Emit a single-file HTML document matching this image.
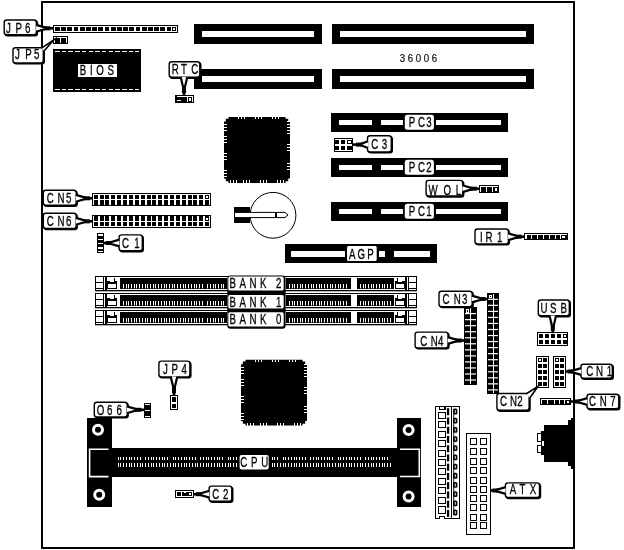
<!DOCTYPE html>
<html><head><meta charset="utf-8"><title>36006</title>
<style>
html,body{margin:0;padding:0;background:#fff;}
body{width:624px;height:550px;overflow:hidden;font-family:"Liberation Sans",sans-serif;}
svg{display:block;will-change:transform;font-family:"Liberation Sans",sans-serif;}
svg rect,svg polygon,svg line,svg polyline{shape-rendering:crispEdges;}
svg .aa, svg .aa *{shape-rendering:auto;}
</style></head><body>
<svg width="624" height="550" viewBox="0 0 624 550">
<rect x="41" y="1" width="534" height="548" fill="#000" />
<rect x="43" y="3" width="530" height="544" fill="#fff" />
<rect x="194" y="24" width="128" height="20" fill="#000" />
<rect x="202" y="31" width="112" height="6" fill="#fff" />
<rect x="194" y="69" width="128" height="19.5" fill="#000" />
<rect x="202" y="76" width="112" height="6" fill="#fff" />
<rect x="332" y="24" width="202" height="20" fill="#000" />
<rect x="340" y="31" width="186" height="6" fill="#fff" />
<rect x="332" y="69" width="202" height="19.5" fill="#000" />
<rect x="340" y="76" width="186" height="6" fill="#fff" />
<rect x="331" y="113" width="176.5" height="18.5" fill="#000" />
<rect x="339" y="119.7" width="33" height="5.3" fill="#fff" />
<rect x="381" y="119.7" width="22" height="5.3" fill="#fff" />
<rect x="436" y="119.7" width="65" height="5.3" fill="#fff" />
<rect x="404.8" y="114.7" width="29.1" height="15.1" rx="2.5" fill="#fff" class="aa"/>
<text transform="translate(0,127) scale(0.68,1)" x="601.03 614.71 626.91" y="0" font-size="14.3" fill="#000" stroke="#000" stroke-width="0.3" font-weight="normal">PC3</text>
<rect x="331" y="158" width="176.5" height="18.5" fill="#000" />
<rect x="339" y="164.7" width="33" height="5.3" fill="#fff" />
<rect x="381" y="164.7" width="22" height="5.3" fill="#fff" />
<rect x="436" y="164.7" width="65" height="5.3" fill="#fff" />
<rect x="404.8" y="159.7" width="29.1" height="15.1" rx="2.5" fill="#fff" class="aa"/>
<text transform="translate(0,172) scale(0.68,1)" x="601.03 614.71 626.91" y="0" font-size="14.3" fill="#000" stroke="#000" stroke-width="0.3" font-weight="normal">PC2</text>
<rect x="331" y="202" width="176.5" height="18.5" fill="#000" />
<rect x="339" y="208.7" width="33" height="5.3" fill="#fff" />
<rect x="381" y="208.7" width="22" height="5.3" fill="#fff" />
<rect x="436" y="208.7" width="65" height="5.3" fill="#fff" />
<rect x="404.8" y="203.7" width="29.1" height="15.1" rx="2.5" fill="#fff" class="aa"/>
<text transform="translate(0,216) scale(0.68,1)" x="601.03 614.71 626.91" y="0" font-size="14.3" fill="#000" stroke="#000" stroke-width="0.3" font-weight="normal">PC1</text>
<rect x="285" y="244" width="152" height="19" fill="#000" />
<rect x="291" y="251" width="53.5" height="6" fill="#fff" />
<rect x="393.5" y="251" width="36.8" height="6" fill="#fff" />
<rect x="379" y="251" width="6" height="6" fill="#fff" />
<rect x="347" y="245.9" width="29.7" height="15.2" rx="1.5" fill="#fff" class="aa"/>
<text transform="translate(0,258.5) scale(0.68,1)" x="513.09 525.74 540.15" y="0" font-size="14.3" fill="#000" stroke="#000" stroke-width="0.3" font-weight="normal">AGP</text>
<text transform="translate(0,61.7) scale(0.88,1)" x="454.32 463.41 472.51 481.61 490.70" y="0" font-size="11" fill="#000" stroke="#000" stroke-width="0.15" font-weight="normal">36006</text>
<rect x="53" y="25" width="125" height="8" fill="#000" />
<rect x="54" y="26" width="123" height="6" fill="#fff" />
<rect x="55" y="27" width="4.7" height="4" fill="#000" />
<rect x="61.2" y="27" width="4.7" height="4" fill="#000" />
<rect x="67.4" y="27" width="4.7" height="4" fill="#000" />
<rect x="73.6" y="27" width="4.7" height="4" fill="#000" />
<rect x="79.8" y="27" width="4.7" height="4" fill="#000" />
<rect x="86" y="27" width="4.7" height="4" fill="#000" />
<rect x="92.2" y="27" width="4.7" height="4" fill="#000" />
<rect x="98.4" y="27" width="4.7" height="4" fill="#000" />
<rect x="104.6" y="27" width="4.7" height="4" fill="#000" />
<rect x="110.8" y="27" width="4.7" height="4" fill="#000" />
<rect x="117" y="27" width="4.7" height="4" fill="#000" />
<rect x="123.2" y="27" width="4.7" height="4" fill="#000" />
<rect x="129.4" y="27" width="4.7" height="4" fill="#000" />
<rect x="135.6" y="27" width="4.7" height="4" fill="#000" />
<rect x="141.8" y="27" width="4.7" height="4" fill="#000" />
<rect x="148" y="27" width="4.7" height="4" fill="#000" />
<rect x="154.2" y="27" width="4.7" height="4" fill="#000" />
<rect x="160.4" y="27" width="4.7" height="4" fill="#000" />
<rect x="166.6" y="27" width="4.7" height="4" fill="#000" />
<rect x="172.3" y="27" width="4" height="4" fill="#000" />
<rect x="173.3" y="28" width="2" height="2" fill="#fff" />
<rect x="53" y="36" width="15" height="8" fill="#000" />
<rect x="54" y="37" width="13" height="1" fill="#fff" />
<rect x="54" y="38" width="1" height="5" fill="#fff" />
<rect x="60" y="38" width="1" height="5" fill="#fff" />
<rect x="66" y="38" width="1" height="5" fill="#fff" />
<rect x="53" y="49.3" width="87.5" height="42.2" fill="#000" />
<line x1="55" y1="51.5" x2="139" y2="51.5" stroke="#fff" stroke-width="1" stroke-dasharray="4.5 2.2"/>
<line x1="55" y1="89" x2="139" y2="89" stroke="#fff" stroke-width="1" stroke-dasharray="4.5 2.2"/>
<rect x="77.5" y="63.5" width="39" height="13.5" fill="#fff" />
<text transform="translate(0,75.2) scale(0.68,1)" x="117.35 132.31 141.71 158.26" y="0" font-size="14.3" fill="#000" stroke="#000" stroke-width="0.3" font-weight="normal">BIOS</text>
<rect x="175" y="95" width="19" height="8" fill="#000" />
<rect x="177" y="96" width="16" height="1" fill="#fff" />
<rect x="177" y="100.4" width="4.3" height="1" fill="#fff" />
<rect x="180.5" y="97" width="0.9" height="4" fill="#fff" />
<rect x="187" y="97" width="1" height="5" fill="#fff" />
<rect x="189" y="98" width="2" height="3" fill="#fff" />
<rect x="192" y="97" width="1" height="5" fill="#fff" />
<polygon points="228.5,117 285.5,117 285.5,118.8 288.2,118.8 288.2,121.5 290,121.5 290,178.5 288.2,178.5 288.2,181.2 285.5,181.2 285.5,183 228.5,183 228.5,181.2 225.8,181.2 225.8,178.5 224,178.5 224,121.5 225.8,121.5 225.8,118.8 228.5,118.8" fill="#000" class="aa"/>
<rect x="238" y="117" width="1" height="2" fill="#fff" />
<rect x="241" y="117" width="1" height="2" fill="#fff" />
<rect x="244" y="117" width="1" height="2" fill="#fff" />
<rect x="255" y="117" width="1" height="2" fill="#fff" />
<rect x="258" y="117" width="1" height="2" fill="#fff" />
<rect x="261" y="117" width="1" height="2" fill="#fff" />
<rect x="272" y="117" width="1" height="2" fill="#fff" />
<rect x="275" y="117" width="1" height="2" fill="#fff" />
<rect x="278" y="117" width="1" height="2" fill="#fff" />
<rect x="230" y="180" width="1" height="3" fill="#fff" />
<rect x="233" y="180" width="1" height="3" fill="#fff" />
<rect x="236" y="180" width="1" height="3" fill="#fff" />
<rect x="243" y="180" width="1" height="3" fill="#fff" />
<rect x="246" y="180" width="1" height="3" fill="#fff" />
<rect x="249" y="180" width="1" height="3" fill="#fff" />
<rect x="260" y="180" width="1" height="3" fill="#fff" />
<rect x="263" y="180" width="1" height="3" fill="#fff" />
<rect x="266" y="180" width="1" height="3" fill="#fff" />
<rect x="277" y="180" width="1" height="3" fill="#fff" />
<rect x="280" y="180" width="1" height="3" fill="#fff" />
<rect x="283" y="180" width="1" height="3" fill="#fff" />
<rect x="224" y="124" width="3" height="1" fill="#fff" />
<rect x="224" y="127" width="3" height="1" fill="#fff" />
<rect x="224" y="130" width="3" height="1" fill="#fff" />
<rect x="224" y="136" width="3" height="1" fill="#fff" />
<rect x="224" y="139" width="3" height="1" fill="#fff" />
<rect x="224" y="142" width="3" height="1" fill="#fff" />
<rect x="224" y="153" width="3" height="1" fill="#fff" />
<rect x="224" y="156" width="3" height="1" fill="#fff" />
<rect x="224" y="159" width="3" height="1" fill="#fff" />
<rect x="224" y="170" width="3" height="1" fill="#fff" />
<rect x="224" y="173" width="3" height="1" fill="#fff" />
<rect x="224" y="176" width="3" height="1" fill="#fff" />
<rect x="287" y="121" width="3" height="1" fill="#fff" />
<rect x="287" y="124" width="3" height="1" fill="#fff" />
<rect x="287" y="127" width="3" height="1" fill="#fff" />
<rect x="287" y="127" width="3" height="1" fill="#fff" />
<rect x="287" y="130" width="3" height="1" fill="#fff" />
<rect x="287" y="133" width="3" height="1" fill="#fff" />
<rect x="287" y="144" width="3" height="1" fill="#fff" />
<rect x="287" y="147" width="3" height="1" fill="#fff" />
<rect x="287" y="150" width="3" height="1" fill="#fff" />
<rect x="287" y="163" width="3" height="1" fill="#fff" />
<rect x="287" y="166" width="3" height="1" fill="#fff" />
<rect x="287" y="169" width="3" height="1" fill="#fff" />
<polygon points="245.5,359.7 302.5,359.7 302.5,361.5 305.2,361.5 305.2,364.2 307,364.2 307,421.1 305.2,421.1 305.2,423.8 302.5,423.8 302.5,425.6 245.5,425.6 245.5,423.8 242.8,423.8 242.8,421.1 241,421.1 241,364.2 242.8,364.2 242.8,361.5 245.5,361.5" fill="#000" class="aa"/>
<rect x="255" y="359.7" width="1" height="2" fill="#fff" />
<rect x="258" y="359.7" width="1" height="2" fill="#fff" />
<rect x="261" y="359.7" width="1" height="2" fill="#fff" />
<rect x="272" y="359.7" width="1" height="2" fill="#fff" />
<rect x="275" y="359.7" width="1" height="2" fill="#fff" />
<rect x="278" y="359.7" width="1" height="2" fill="#fff" />
<rect x="289" y="359.7" width="1" height="2" fill="#fff" />
<rect x="292" y="359.7" width="1" height="2" fill="#fff" />
<rect x="295" y="359.7" width="1" height="2" fill="#fff" />
<rect x="247" y="422.6" width="1" height="3" fill="#fff" />
<rect x="250" y="422.6" width="1" height="3" fill="#fff" />
<rect x="253" y="422.6" width="1" height="3" fill="#fff" />
<rect x="260" y="422.6" width="1" height="3" fill="#fff" />
<rect x="263" y="422.6" width="1" height="3" fill="#fff" />
<rect x="266" y="422.6" width="1" height="3" fill="#fff" />
<rect x="277" y="422.6" width="1" height="3" fill="#fff" />
<rect x="280" y="422.6" width="1" height="3" fill="#fff" />
<rect x="283" y="422.6" width="1" height="3" fill="#fff" />
<rect x="294" y="422.6" width="1" height="3" fill="#fff" />
<rect x="297" y="422.6" width="1" height="3" fill="#fff" />
<rect x="300" y="422.6" width="1" height="3" fill="#fff" />
<rect x="241" y="366.7" width="3" height="1" fill="#fff" />
<rect x="241" y="369.7" width="3" height="1" fill="#fff" />
<rect x="241" y="372.7" width="3" height="1" fill="#fff" />
<rect x="241" y="378.7" width="3" height="1" fill="#fff" />
<rect x="241" y="381.7" width="3" height="1" fill="#fff" />
<rect x="241" y="384.7" width="3" height="1" fill="#fff" />
<rect x="241" y="395.7" width="3" height="1" fill="#fff" />
<rect x="241" y="398.7" width="3" height="1" fill="#fff" />
<rect x="241" y="401.7" width="3" height="1" fill="#fff" />
<rect x="241" y="412.7" width="3" height="1" fill="#fff" />
<rect x="241" y="415.7" width="3" height="1" fill="#fff" />
<rect x="241" y="418.7" width="3" height="1" fill="#fff" />
<rect x="304" y="363.7" width="3" height="1" fill="#fff" />
<rect x="304" y="366.7" width="3" height="1" fill="#fff" />
<rect x="304" y="369.7" width="3" height="1" fill="#fff" />
<rect x="304" y="369.7" width="3" height="1" fill="#fff" />
<rect x="304" y="372.7" width="3" height="1" fill="#fff" />
<rect x="304" y="375.7" width="3" height="1" fill="#fff" />
<rect x="304" y="386.7" width="3" height="1" fill="#fff" />
<rect x="304" y="389.7" width="3" height="1" fill="#fff" />
<rect x="304" y="392.7" width="3" height="1" fill="#fff" />
<rect x="304" y="405.7" width="3" height="1" fill="#fff" />
<rect x="304" y="408.7" width="3" height="1" fill="#fff" />
<rect x="304" y="411.7" width="3" height="1" fill="#fff" />
<rect x="92" y="193" width="119" height="13" fill="#000" />
<rect x="93" y="194" width="117" height="11" fill="#fff" />
<rect x="94" y="195" width="4" height="4" fill="#000" />
<rect x="94" y="200" width="4" height="6" fill="#000" />
<rect x="100" y="195" width="4" height="4" fill="#000" />
<rect x="100" y="200" width="4" height="6" fill="#000" />
<rect x="105" y="195" width="4" height="4" fill="#000" />
<rect x="105" y="200" width="4" height="6" fill="#000" />
<rect x="111" y="195" width="4" height="4" fill="#000" />
<rect x="111" y="200" width="4" height="6" fill="#000" />
<rect x="117" y="195" width="4" height="4" fill="#000" />
<rect x="117" y="200" width="4" height="6" fill="#000" />
<rect x="123" y="195" width="4" height="4" fill="#000" />
<rect x="123" y="200" width="4" height="6" fill="#000" />
<rect x="129" y="195" width="4" height="4" fill="#000" />
<rect x="129" y="200" width="4" height="6" fill="#000" />
<rect x="135" y="195" width="4" height="4" fill="#000" />
<rect x="135" y="200" width="4" height="6" fill="#000" />
<rect x="141" y="195" width="4" height="4" fill="#000" />
<rect x="141" y="200" width="4" height="6" fill="#000" />
<rect x="147" y="195" width="4" height="4" fill="#000" />
<rect x="147" y="200" width="4" height="6" fill="#000" />
<rect x="152" y="195" width="4" height="4" fill="#000" />
<rect x="152" y="200" width="4" height="6" fill="#000" />
<rect x="158" y="195" width="4" height="4" fill="#000" />
<rect x="158" y="200" width="4" height="6" fill="#000" />
<rect x="164" y="195" width="4" height="4" fill="#000" />
<rect x="164" y="200" width="4" height="6" fill="#000" />
<rect x="170" y="195" width="4" height="4" fill="#000" />
<rect x="170" y="200" width="4" height="6" fill="#000" />
<rect x="176" y="195" width="4" height="4" fill="#000" />
<rect x="176" y="200" width="4" height="6" fill="#000" />
<rect x="182" y="195" width="4" height="4" fill="#000" />
<rect x="182" y="200" width="4" height="6" fill="#000" />
<rect x="188" y="195" width="4" height="4" fill="#000" />
<rect x="188" y="200" width="4" height="6" fill="#000" />
<rect x="193" y="195" width="4" height="4" fill="#000" />
<rect x="193" y="200" width="4" height="6" fill="#000" />
<rect x="199" y="195" width="4" height="4" fill="#000" />
<rect x="199" y="200" width="4" height="6" fill="#000" />
<rect x="205" y="195" width="4" height="4" fill="#000" />
<rect x="205" y="200" width="4" height="6" fill="#000" />
<rect x="92" y="215" width="119" height="13" fill="#000" />
<rect x="93" y="216" width="117" height="11" fill="#fff" />
<rect x="94" y="215" width="4" height="6" fill="#000" />
<rect x="94" y="222" width="4" height="4" fill="#000" />
<rect x="100" y="215" width="4" height="6" fill="#000" />
<rect x="100" y="222" width="4" height="4" fill="#000" />
<rect x="105" y="215" width="4" height="6" fill="#000" />
<rect x="105" y="222" width="4" height="4" fill="#000" />
<rect x="111" y="215" width="4" height="6" fill="#000" />
<rect x="111" y="222" width="4" height="4" fill="#000" />
<rect x="117" y="215" width="4" height="6" fill="#000" />
<rect x="117" y="222" width="4" height="4" fill="#000" />
<rect x="123" y="215" width="4" height="6" fill="#000" />
<rect x="123" y="222" width="4" height="4" fill="#000" />
<rect x="129" y="215" width="4" height="6" fill="#000" />
<rect x="129" y="222" width="4" height="4" fill="#000" />
<rect x="135" y="215" width="4" height="6" fill="#000" />
<rect x="135" y="222" width="4" height="4" fill="#000" />
<rect x="141" y="215" width="4" height="6" fill="#000" />
<rect x="141" y="222" width="4" height="4" fill="#000" />
<rect x="147" y="215" width="4" height="6" fill="#000" />
<rect x="147" y="222" width="4" height="4" fill="#000" />
<rect x="152" y="215" width="4" height="6" fill="#000" />
<rect x="152" y="222" width="4" height="4" fill="#000" />
<rect x="158" y="215" width="4" height="6" fill="#000" />
<rect x="158" y="222" width="4" height="4" fill="#000" />
<rect x="164" y="215" width="4" height="6" fill="#000" />
<rect x="164" y="222" width="4" height="4" fill="#000" />
<rect x="170" y="215" width="4" height="6" fill="#000" />
<rect x="170" y="222" width="4" height="4" fill="#000" />
<rect x="176" y="215" width="4" height="6" fill="#000" />
<rect x="176" y="222" width="4" height="4" fill="#000" />
<rect x="182" y="215" width="4" height="6" fill="#000" />
<rect x="182" y="222" width="4" height="4" fill="#000" />
<rect x="188" y="215" width="4" height="6" fill="#000" />
<rect x="188" y="222" width="4" height="4" fill="#000" />
<rect x="193" y="215" width="4" height="6" fill="#000" />
<rect x="193" y="222" width="4" height="4" fill="#000" />
<rect x="199" y="215" width="4" height="6" fill="#000" />
<rect x="199" y="222" width="4" height="4" fill="#000" />
<rect x="205" y="215" width="4" height="6" fill="#000" />
<rect x="205" y="222" width="4" height="4" fill="#000" />
<rect x="206" y="196" width="2" height="2" fill="#fff" />
<rect x="206" y="218" width="2" height="2" fill="#fff" />
<rect x="97" y="233.3" width="7" height="19.4" fill="#000" />
<rect x="98" y="234.3" width="5" height="17.4" fill="#fff" />
<rect x="98" y="236" width="5" height="2.6" fill="#000" />
<rect x="98" y="240.2" width="5" height="2.6" fill="#000" />
<rect x="98" y="244.4" width="5" height="2.6" fill="#000" />
<rect x="98" y="248.6" width="5" height="2.6" fill="#000" />
<circle cx="273" cy="215.3" r="22.9" fill="#fff" stroke="#000" stroke-width="1" class="aa"/>
<rect x="234" y="207" width="16.3" height="15.8" fill="#000" />
<polygon points="234.5,212.4 285,212.4 288,215 285,217.6 234.5,217.6" fill="#fff" stroke="#000" stroke-width="1" class="aa"/>
<rect x="275.3" y="212" width="1.5" height="6" fill="#000" />
<rect x="334" y="138" width="19" height="14" fill="#000" />
<rect x="335" y="139" width="17" height="12" fill="#fff" />
<rect x="335" y="140" width="4" height="4" fill="#000" />
<rect x="341" y="140" width="4" height="4" fill="#000" />
<rect x="347" y="140" width="5" height="4" fill="#000" />
<rect x="335" y="146" width="4" height="4" fill="#000" />
<rect x="341" y="146" width="4" height="4" fill="#000" />
<rect x="347" y="146" width="5" height="4" fill="#000" />
<rect x="348" y="141" width="3" height="2" fill="#fff" />
<rect x="479" y="185" width="20" height="8" fill="#000" />
<rect x="480" y="186" width="18" height="1" fill="#fff" />
<rect x="480" y="187" width="1" height="5" fill="#fff" />
<rect x="486" y="187" width="1" height="5" fill="#fff" />
<rect x="492" y="187" width="1" height="5" fill="#fff" />
<rect x="495" y="188" width="2" height="3" fill="#fff" />
<rect x="524" y="233" width="44" height="7" fill="#000" />
<rect x="525" y="234" width="42" height="1" fill="#fff" />
<rect x="525" y="235" width="2" height="4" fill="#fff" />
<rect x="531" y="235" width="1" height="4" fill="#fff" />
<rect x="537" y="235" width="1" height="4" fill="#fff" />
<rect x="543" y="235" width="1" height="4" fill="#fff" />
<rect x="549" y="235" width="1" height="4" fill="#fff" />
<rect x="555" y="235" width="1" height="4" fill="#fff" />
<rect x="560" y="235" width="1" height="4" fill="#fff" />
<rect x="562" y="236" width="3" height="2" fill="#fff" />
<rect x="95" y="276" width="322" height="15" fill="#000" />
<rect x="96" y="277" width="320" height="13" fill="#fff" />
<rect x="95" y="291" width="322" height="0.3" fill="#000" class="aa"/>
<rect x="103" y="276" width="1" height="15" fill="#000" />
<rect x="96" y="282" width="7" height="1" fill="#000" />
<rect x="96" y="288" width="7" height="1" fill="#000" />
<rect x="105" y="277" width="2" height="13" fill="#000" />
<rect x="107" y="281" width="10" height="8" fill="#000" />
<rect x="108" y="284" width="8" height="4" fill="#fff" />
<rect x="110" y="281" width="4" height="1" fill="#fff" />
<rect x="114" y="278" width="1" height="3" fill="#000" />
<rect x="408" y="276" width="1" height="15" fill="#000" />
<rect x="409" y="282" width="7" height="1" fill="#000" />
<rect x="409" y="288" width="7" height="1" fill="#000" />
<rect x="405" y="277" width="2" height="13" fill="#000" />
<rect x="395" y="281" width="10" height="8" fill="#000" />
<rect x="396" y="284" width="8" height="4" fill="#fff" />
<rect x="398" y="281" width="4" height="1" fill="#fff" />
<rect x="397" y="278" width="1" height="3" fill="#000" />
<rect x="120" y="278" width="106.5" height="11" fill="#000" />
<rect x="123" y="284" width="1" height="4" fill="#fff" />
<rect x="123" y="288" width="1" height="0.4" fill="#fff" class="aa"/>
<rect x="126" y="284" width="1" height="4" fill="#fff" />
<rect x="126" y="288" width="1" height="0.4" fill="#fff" class="aa"/>
<rect x="128" y="284" width="1" height="4" fill="#fff" />
<rect x="128" y="288" width="1" height="0.4" fill="#fff" class="aa"/>
<rect x="131" y="284" width="1" height="4" fill="#fff" />
<rect x="131" y="288" width="1" height="0.4" fill="#fff" class="aa"/>
<rect x="134" y="284" width="1" height="4" fill="#fff" />
<rect x="134" y="288" width="1" height="0.4" fill="#fff" class="aa"/>
<rect x="136" y="284" width="1" height="4" fill="#fff" />
<rect x="136" y="288" width="1" height="0.4" fill="#fff" class="aa"/>
<rect x="139" y="284" width="1" height="4" fill="#fff" />
<rect x="139" y="288" width="1" height="0.4" fill="#fff" class="aa"/>
<rect x="142" y="284" width="1" height="4" fill="#fff" />
<rect x="142" y="288" width="1" height="0.4" fill="#fff" class="aa"/>
<rect x="145" y="284" width="1" height="4" fill="#fff" />
<rect x="145" y="288" width="1" height="0.4" fill="#fff" class="aa"/>
<rect x="147" y="284" width="1" height="4" fill="#fff" />
<rect x="147" y="288" width="1" height="0.4" fill="#fff" class="aa"/>
<rect x="150" y="284" width="1" height="4" fill="#fff" />
<rect x="150" y="288" width="1" height="0.4" fill="#fff" class="aa"/>
<rect x="153" y="284" width="1" height="4" fill="#fff" />
<rect x="153" y="288" width="1" height="0.4" fill="#fff" class="aa"/>
<rect x="155" y="284" width="1" height="4" fill="#fff" />
<rect x="155" y="288" width="1" height="0.4" fill="#fff" class="aa"/>
<rect x="158" y="284" width="1" height="4" fill="#fff" />
<rect x="158" y="288" width="1" height="0.4" fill="#fff" class="aa"/>
<rect x="161" y="284" width="1" height="4" fill="#fff" />
<rect x="161" y="288" width="1" height="0.4" fill="#fff" class="aa"/>
<rect x="164" y="284" width="1" height="4" fill="#fff" />
<rect x="164" y="288" width="1" height="0.4" fill="#fff" class="aa"/>
<rect x="166" y="284" width="1" height="4" fill="#fff" />
<rect x="166" y="288" width="1" height="0.4" fill="#fff" class="aa"/>
<rect x="169" y="284" width="1" height="4" fill="#fff" />
<rect x="169" y="288" width="1" height="0.4" fill="#fff" class="aa"/>
<rect x="172" y="284" width="1" height="4" fill="#fff" />
<rect x="172" y="288" width="1" height="0.4" fill="#fff" class="aa"/>
<rect x="174" y="284" width="1" height="4" fill="#fff" />
<rect x="174" y="288" width="1" height="0.4" fill="#fff" class="aa"/>
<rect x="177" y="284" width="1" height="4" fill="#fff" />
<rect x="177" y="288" width="1" height="0.4" fill="#fff" class="aa"/>
<rect x="180" y="284" width="1" height="4" fill="#fff" />
<rect x="180" y="288" width="1" height="0.4" fill="#fff" class="aa"/>
<rect x="183" y="284" width="1" height="4" fill="#fff" />
<rect x="183" y="288" width="1" height="0.4" fill="#fff" class="aa"/>
<rect x="185" y="284" width="1" height="4" fill="#fff" />
<rect x="185" y="288" width="1" height="0.4" fill="#fff" class="aa"/>
<rect x="188" y="284" width="1" height="4" fill="#fff" />
<rect x="188" y="288" width="1" height="0.4" fill="#fff" class="aa"/>
<rect x="191" y="284" width="1" height="4" fill="#fff" />
<rect x="191" y="288" width="1" height="0.4" fill="#fff" class="aa"/>
<rect x="194" y="284" width="1" height="4" fill="#fff" />
<rect x="194" y="288" width="1" height="0.4" fill="#fff" class="aa"/>
<rect x="196" y="284" width="1" height="4" fill="#fff" />
<rect x="196" y="288" width="1" height="0.4" fill="#fff" class="aa"/>
<rect x="199" y="284" width="1" height="4" fill="#fff" />
<rect x="199" y="288" width="1" height="0.4" fill="#fff" class="aa"/>
<rect x="202" y="284" width="1" height="4" fill="#fff" />
<rect x="202" y="288" width="1" height="0.4" fill="#fff" class="aa"/>
<rect x="207" y="284" width="1" height="4" fill="#fff" />
<rect x="207" y="288" width="1" height="0.4" fill="#fff" class="aa"/>
<rect x="210" y="284" width="1" height="4" fill="#fff" />
<rect x="210" y="288" width="1" height="0.4" fill="#fff" class="aa"/>
<rect x="213" y="284" width="1" height="4" fill="#fff" />
<rect x="213" y="288" width="1" height="0.4" fill="#fff" class="aa"/>
<rect x="215" y="284" width="1" height="4" fill="#fff" />
<rect x="215" y="288" width="1" height="0.4" fill="#fff" class="aa"/>
<rect x="218" y="284" width="1" height="4" fill="#fff" />
<rect x="218" y="288" width="1" height="0.4" fill="#fff" class="aa"/>
<rect x="221" y="284" width="1" height="4" fill="#fff" />
<rect x="221" y="288" width="1" height="0.4" fill="#fff" class="aa"/>
<rect x="223" y="284" width="1" height="4" fill="#fff" />
<rect x="223" y="288" width="1" height="0.4" fill="#fff" class="aa"/>
<rect x="286" y="278" width="65" height="11" fill="#000" />
<rect x="289" y="284" width="1" height="4" fill="#fff" />
<rect x="289" y="288" width="1" height="0.4" fill="#fff" class="aa"/>
<rect x="292" y="284" width="1" height="4" fill="#fff" />
<rect x="292" y="288" width="1" height="0.4" fill="#fff" class="aa"/>
<rect x="294" y="284" width="1" height="4" fill="#fff" />
<rect x="294" y="288" width="1" height="0.4" fill="#fff" class="aa"/>
<rect x="297" y="284" width="1" height="4" fill="#fff" />
<rect x="297" y="288" width="1" height="0.4" fill="#fff" class="aa"/>
<rect x="300" y="284" width="1" height="4" fill="#fff" />
<rect x="300" y="288" width="1" height="0.4" fill="#fff" class="aa"/>
<rect x="302" y="284" width="1" height="4" fill="#fff" />
<rect x="302" y="288" width="1" height="0.4" fill="#fff" class="aa"/>
<rect x="305" y="284" width="1" height="4" fill="#fff" />
<rect x="305" y="288" width="1" height="0.4" fill="#fff" class="aa"/>
<rect x="308" y="284" width="1" height="4" fill="#fff" />
<rect x="308" y="288" width="1" height="0.4" fill="#fff" class="aa"/>
<rect x="311" y="284" width="1" height="4" fill="#fff" />
<rect x="311" y="288" width="1" height="0.4" fill="#fff" class="aa"/>
<rect x="313" y="284" width="1" height="4" fill="#fff" />
<rect x="313" y="288" width="1" height="0.4" fill="#fff" class="aa"/>
<rect x="316" y="284" width="1" height="4" fill="#fff" />
<rect x="316" y="288" width="1" height="0.4" fill="#fff" class="aa"/>
<rect x="319" y="284" width="1" height="4" fill="#fff" />
<rect x="319" y="288" width="1" height="0.4" fill="#fff" class="aa"/>
<rect x="321" y="284" width="1" height="4" fill="#fff" />
<rect x="321" y="288" width="1" height="0.4" fill="#fff" class="aa"/>
<rect x="324" y="284" width="1" height="4" fill="#fff" />
<rect x="324" y="288" width="1" height="0.4" fill="#fff" class="aa"/>
<rect x="327" y="284" width="1" height="4" fill="#fff" />
<rect x="327" y="288" width="1" height="0.4" fill="#fff" class="aa"/>
<rect x="330" y="284" width="1" height="4" fill="#fff" />
<rect x="330" y="288" width="1" height="0.4" fill="#fff" class="aa"/>
<rect x="332" y="284" width="1" height="4" fill="#fff" />
<rect x="332" y="288" width="1" height="0.4" fill="#fff" class="aa"/>
<rect x="335" y="284" width="1" height="4" fill="#fff" />
<rect x="335" y="288" width="1" height="0.4" fill="#fff" class="aa"/>
<rect x="338" y="284" width="1" height="4" fill="#fff" />
<rect x="338" y="288" width="1" height="0.4" fill="#fff" class="aa"/>
<rect x="340" y="284" width="1" height="4" fill="#fff" />
<rect x="340" y="288" width="1" height="0.4" fill="#fff" class="aa"/>
<rect x="343" y="284" width="1" height="4" fill="#fff" />
<rect x="343" y="288" width="1" height="0.4" fill="#fff" class="aa"/>
<rect x="346" y="284" width="1" height="4" fill="#fff" />
<rect x="346" y="288" width="1" height="0.4" fill="#fff" class="aa"/>
<rect x="357" y="278" width="37" height="11" fill="#000" />
<rect x="360" y="284" width="1" height="4" fill="#fff" />
<rect x="360" y="288" width="1" height="0.4" fill="#fff" class="aa"/>
<rect x="363" y="284" width="1" height="4" fill="#fff" />
<rect x="363" y="288" width="1" height="0.4" fill="#fff" class="aa"/>
<rect x="365" y="284" width="1" height="4" fill="#fff" />
<rect x="365" y="288" width="1" height="0.4" fill="#fff" class="aa"/>
<rect x="368" y="284" width="1" height="4" fill="#fff" />
<rect x="368" y="288" width="1" height="0.4" fill="#fff" class="aa"/>
<rect x="371" y="284" width="1" height="4" fill="#fff" />
<rect x="371" y="288" width="1" height="0.4" fill="#fff" class="aa"/>
<rect x="373" y="284" width="1" height="4" fill="#fff" />
<rect x="373" y="288" width="1" height="0.4" fill="#fff" class="aa"/>
<rect x="376" y="284" width="1" height="4" fill="#fff" />
<rect x="376" y="288" width="1" height="0.4" fill="#fff" class="aa"/>
<rect x="379" y="284" width="1" height="4" fill="#fff" />
<rect x="379" y="288" width="1" height="0.4" fill="#fff" class="aa"/>
<rect x="382" y="284" width="1" height="4" fill="#fff" />
<rect x="382" y="288" width="1" height="0.4" fill="#fff" class="aa"/>
<rect x="384" y="284" width="1" height="4" fill="#fff" />
<rect x="384" y="288" width="1" height="0.4" fill="#fff" class="aa"/>
<rect x="387" y="284" width="1" height="4" fill="#fff" />
<rect x="387" y="288" width="1" height="0.4" fill="#fff" class="aa"/>
<rect x="390" y="284" width="1" height="4" fill="#fff" />
<rect x="390" y="288" width="1" height="0.4" fill="#fff" class="aa"/>
<rect x="95" y="293" width="322" height="15" fill="#000" />
<rect x="96" y="294" width="320" height="13" fill="#fff" />
<rect x="95" y="308" width="322" height="0.3" fill="#000" class="aa"/>
<rect x="103" y="293" width="1" height="15" fill="#000" />
<rect x="96" y="299" width="7" height="1" fill="#000" />
<rect x="96" y="305" width="7" height="1" fill="#000" />
<rect x="105" y="294" width="2" height="13" fill="#000" />
<rect x="107" y="298" width="10" height="8" fill="#000" />
<rect x="108" y="301" width="8" height="4" fill="#fff" />
<rect x="110" y="298" width="4" height="1" fill="#fff" />
<rect x="114" y="295" width="1" height="3" fill="#000" />
<rect x="408" y="293" width="1" height="15" fill="#000" />
<rect x="409" y="299" width="7" height="1" fill="#000" />
<rect x="409" y="305" width="7" height="1" fill="#000" />
<rect x="405" y="294" width="2" height="13" fill="#000" />
<rect x="395" y="298" width="10" height="8" fill="#000" />
<rect x="396" y="301" width="8" height="4" fill="#fff" />
<rect x="398" y="298" width="4" height="1" fill="#fff" />
<rect x="397" y="295" width="1" height="3" fill="#000" />
<rect x="120" y="295" width="106.5" height="11" fill="#000" />
<rect x="123" y="301" width="1" height="4" fill="#fff" />
<rect x="123" y="305" width="1" height="0.4" fill="#fff" class="aa"/>
<rect x="126" y="301" width="1" height="4" fill="#fff" />
<rect x="126" y="305" width="1" height="0.4" fill="#fff" class="aa"/>
<rect x="128" y="301" width="1" height="4" fill="#fff" />
<rect x="128" y="305" width="1" height="0.4" fill="#fff" class="aa"/>
<rect x="131" y="301" width="1" height="4" fill="#fff" />
<rect x="131" y="305" width="1" height="0.4" fill="#fff" class="aa"/>
<rect x="134" y="301" width="1" height="4" fill="#fff" />
<rect x="134" y="305" width="1" height="0.4" fill="#fff" class="aa"/>
<rect x="136" y="301" width="1" height="4" fill="#fff" />
<rect x="136" y="305" width="1" height="0.4" fill="#fff" class="aa"/>
<rect x="139" y="301" width="1" height="4" fill="#fff" />
<rect x="139" y="305" width="1" height="0.4" fill="#fff" class="aa"/>
<rect x="142" y="301" width="1" height="4" fill="#fff" />
<rect x="142" y="305" width="1" height="0.4" fill="#fff" class="aa"/>
<rect x="145" y="301" width="1" height="4" fill="#fff" />
<rect x="145" y="305" width="1" height="0.4" fill="#fff" class="aa"/>
<rect x="147" y="301" width="1" height="4" fill="#fff" />
<rect x="147" y="305" width="1" height="0.4" fill="#fff" class="aa"/>
<rect x="150" y="301" width="1" height="4" fill="#fff" />
<rect x="150" y="305" width="1" height="0.4" fill="#fff" class="aa"/>
<rect x="153" y="301" width="1" height="4" fill="#fff" />
<rect x="153" y="305" width="1" height="0.4" fill="#fff" class="aa"/>
<rect x="155" y="301" width="1" height="4" fill="#fff" />
<rect x="155" y="305" width="1" height="0.4" fill="#fff" class="aa"/>
<rect x="158" y="301" width="1" height="4" fill="#fff" />
<rect x="158" y="305" width="1" height="0.4" fill="#fff" class="aa"/>
<rect x="161" y="301" width="1" height="4" fill="#fff" />
<rect x="161" y="305" width="1" height="0.4" fill="#fff" class="aa"/>
<rect x="164" y="301" width="1" height="4" fill="#fff" />
<rect x="164" y="305" width="1" height="0.4" fill="#fff" class="aa"/>
<rect x="166" y="301" width="1" height="4" fill="#fff" />
<rect x="166" y="305" width="1" height="0.4" fill="#fff" class="aa"/>
<rect x="169" y="301" width="1" height="4" fill="#fff" />
<rect x="169" y="305" width="1" height="0.4" fill="#fff" class="aa"/>
<rect x="172" y="301" width="1" height="4" fill="#fff" />
<rect x="172" y="305" width="1" height="0.4" fill="#fff" class="aa"/>
<rect x="174" y="301" width="1" height="4" fill="#fff" />
<rect x="174" y="305" width="1" height="0.4" fill="#fff" class="aa"/>
<rect x="177" y="301" width="1" height="4" fill="#fff" />
<rect x="177" y="305" width="1" height="0.4" fill="#fff" class="aa"/>
<rect x="180" y="301" width="1" height="4" fill="#fff" />
<rect x="180" y="305" width="1" height="0.4" fill="#fff" class="aa"/>
<rect x="183" y="301" width="1" height="4" fill="#fff" />
<rect x="183" y="305" width="1" height="0.4" fill="#fff" class="aa"/>
<rect x="185" y="301" width="1" height="4" fill="#fff" />
<rect x="185" y="305" width="1" height="0.4" fill="#fff" class="aa"/>
<rect x="188" y="301" width="1" height="4" fill="#fff" />
<rect x="188" y="305" width="1" height="0.4" fill="#fff" class="aa"/>
<rect x="191" y="301" width="1" height="4" fill="#fff" />
<rect x="191" y="305" width="1" height="0.4" fill="#fff" class="aa"/>
<rect x="194" y="301" width="1" height="4" fill="#fff" />
<rect x="194" y="305" width="1" height="0.4" fill="#fff" class="aa"/>
<rect x="196" y="301" width="1" height="4" fill="#fff" />
<rect x="196" y="305" width="1" height="0.4" fill="#fff" class="aa"/>
<rect x="199" y="301" width="1" height="4" fill="#fff" />
<rect x="199" y="305" width="1" height="0.4" fill="#fff" class="aa"/>
<rect x="202" y="301" width="1" height="4" fill="#fff" />
<rect x="202" y="305" width="1" height="0.4" fill="#fff" class="aa"/>
<rect x="207" y="301" width="1" height="4" fill="#fff" />
<rect x="207" y="305" width="1" height="0.4" fill="#fff" class="aa"/>
<rect x="210" y="301" width="1" height="4" fill="#fff" />
<rect x="210" y="305" width="1" height="0.4" fill="#fff" class="aa"/>
<rect x="213" y="301" width="1" height="4" fill="#fff" />
<rect x="213" y="305" width="1" height="0.4" fill="#fff" class="aa"/>
<rect x="215" y="301" width="1" height="4" fill="#fff" />
<rect x="215" y="305" width="1" height="0.4" fill="#fff" class="aa"/>
<rect x="218" y="301" width="1" height="4" fill="#fff" />
<rect x="218" y="305" width="1" height="0.4" fill="#fff" class="aa"/>
<rect x="221" y="301" width="1" height="4" fill="#fff" />
<rect x="221" y="305" width="1" height="0.4" fill="#fff" class="aa"/>
<rect x="223" y="301" width="1" height="4" fill="#fff" />
<rect x="223" y="305" width="1" height="0.4" fill="#fff" class="aa"/>
<rect x="286" y="295" width="65" height="11" fill="#000" />
<rect x="289" y="301" width="1" height="4" fill="#fff" />
<rect x="289" y="305" width="1" height="0.4" fill="#fff" class="aa"/>
<rect x="292" y="301" width="1" height="4" fill="#fff" />
<rect x="292" y="305" width="1" height="0.4" fill="#fff" class="aa"/>
<rect x="294" y="301" width="1" height="4" fill="#fff" />
<rect x="294" y="305" width="1" height="0.4" fill="#fff" class="aa"/>
<rect x="297" y="301" width="1" height="4" fill="#fff" />
<rect x="297" y="305" width="1" height="0.4" fill="#fff" class="aa"/>
<rect x="300" y="301" width="1" height="4" fill="#fff" />
<rect x="300" y="305" width="1" height="0.4" fill="#fff" class="aa"/>
<rect x="302" y="301" width="1" height="4" fill="#fff" />
<rect x="302" y="305" width="1" height="0.4" fill="#fff" class="aa"/>
<rect x="305" y="301" width="1" height="4" fill="#fff" />
<rect x="305" y="305" width="1" height="0.4" fill="#fff" class="aa"/>
<rect x="308" y="301" width="1" height="4" fill="#fff" />
<rect x="308" y="305" width="1" height="0.4" fill="#fff" class="aa"/>
<rect x="311" y="301" width="1" height="4" fill="#fff" />
<rect x="311" y="305" width="1" height="0.4" fill="#fff" class="aa"/>
<rect x="313" y="301" width="1" height="4" fill="#fff" />
<rect x="313" y="305" width="1" height="0.4" fill="#fff" class="aa"/>
<rect x="316" y="301" width="1" height="4" fill="#fff" />
<rect x="316" y="305" width="1" height="0.4" fill="#fff" class="aa"/>
<rect x="319" y="301" width="1" height="4" fill="#fff" />
<rect x="319" y="305" width="1" height="0.4" fill="#fff" class="aa"/>
<rect x="321" y="301" width="1" height="4" fill="#fff" />
<rect x="321" y="305" width="1" height="0.4" fill="#fff" class="aa"/>
<rect x="324" y="301" width="1" height="4" fill="#fff" />
<rect x="324" y="305" width="1" height="0.4" fill="#fff" class="aa"/>
<rect x="327" y="301" width="1" height="4" fill="#fff" />
<rect x="327" y="305" width="1" height="0.4" fill="#fff" class="aa"/>
<rect x="330" y="301" width="1" height="4" fill="#fff" />
<rect x="330" y="305" width="1" height="0.4" fill="#fff" class="aa"/>
<rect x="332" y="301" width="1" height="4" fill="#fff" />
<rect x="332" y="305" width="1" height="0.4" fill="#fff" class="aa"/>
<rect x="335" y="301" width="1" height="4" fill="#fff" />
<rect x="335" y="305" width="1" height="0.4" fill="#fff" class="aa"/>
<rect x="338" y="301" width="1" height="4" fill="#fff" />
<rect x="338" y="305" width="1" height="0.4" fill="#fff" class="aa"/>
<rect x="340" y="301" width="1" height="4" fill="#fff" />
<rect x="340" y="305" width="1" height="0.4" fill="#fff" class="aa"/>
<rect x="343" y="301" width="1" height="4" fill="#fff" />
<rect x="343" y="305" width="1" height="0.4" fill="#fff" class="aa"/>
<rect x="346" y="301" width="1" height="4" fill="#fff" />
<rect x="346" y="305" width="1" height="0.4" fill="#fff" class="aa"/>
<rect x="357" y="295" width="37" height="11" fill="#000" />
<rect x="360" y="301" width="1" height="4" fill="#fff" />
<rect x="360" y="305" width="1" height="0.4" fill="#fff" class="aa"/>
<rect x="363" y="301" width="1" height="4" fill="#fff" />
<rect x="363" y="305" width="1" height="0.4" fill="#fff" class="aa"/>
<rect x="365" y="301" width="1" height="4" fill="#fff" />
<rect x="365" y="305" width="1" height="0.4" fill="#fff" class="aa"/>
<rect x="368" y="301" width="1" height="4" fill="#fff" />
<rect x="368" y="305" width="1" height="0.4" fill="#fff" class="aa"/>
<rect x="371" y="301" width="1" height="4" fill="#fff" />
<rect x="371" y="305" width="1" height="0.4" fill="#fff" class="aa"/>
<rect x="373" y="301" width="1" height="4" fill="#fff" />
<rect x="373" y="305" width="1" height="0.4" fill="#fff" class="aa"/>
<rect x="376" y="301" width="1" height="4" fill="#fff" />
<rect x="376" y="305" width="1" height="0.4" fill="#fff" class="aa"/>
<rect x="379" y="301" width="1" height="4" fill="#fff" />
<rect x="379" y="305" width="1" height="0.4" fill="#fff" class="aa"/>
<rect x="382" y="301" width="1" height="4" fill="#fff" />
<rect x="382" y="305" width="1" height="0.4" fill="#fff" class="aa"/>
<rect x="384" y="301" width="1" height="4" fill="#fff" />
<rect x="384" y="305" width="1" height="0.4" fill="#fff" class="aa"/>
<rect x="387" y="301" width="1" height="4" fill="#fff" />
<rect x="387" y="305" width="1" height="0.4" fill="#fff" class="aa"/>
<rect x="390" y="301" width="1" height="4" fill="#fff" />
<rect x="390" y="305" width="1" height="0.4" fill="#fff" class="aa"/>
<rect x="95" y="310" width="322" height="15" fill="#000" />
<rect x="96" y="311" width="320" height="13" fill="#fff" />
<rect x="95" y="325" width="322" height="0.3" fill="#000" class="aa"/>
<rect x="103" y="310" width="1" height="15" fill="#000" />
<rect x="96" y="316" width="7" height="1" fill="#000" />
<rect x="96" y="322" width="7" height="1" fill="#000" />
<rect x="105" y="311" width="2" height="13" fill="#000" />
<rect x="107" y="315" width="10" height="8" fill="#000" />
<rect x="108" y="318" width="8" height="4" fill="#fff" />
<rect x="110" y="315" width="4" height="1" fill="#fff" />
<rect x="114" y="312" width="1" height="3" fill="#000" />
<rect x="408" y="310" width="1" height="15" fill="#000" />
<rect x="409" y="316" width="7" height="1" fill="#000" />
<rect x="409" y="322" width="7" height="1" fill="#000" />
<rect x="405" y="311" width="2" height="13" fill="#000" />
<rect x="395" y="315" width="10" height="8" fill="#000" />
<rect x="396" y="318" width="8" height="4" fill="#fff" />
<rect x="398" y="315" width="4" height="1" fill="#fff" />
<rect x="397" y="312" width="1" height="3" fill="#000" />
<rect x="120" y="312" width="106.5" height="11" fill="#000" />
<rect x="123" y="318" width="1" height="4" fill="#fff" />
<rect x="123" y="322" width="1" height="0.4" fill="#fff" class="aa"/>
<rect x="126" y="318" width="1" height="4" fill="#fff" />
<rect x="126" y="322" width="1" height="0.4" fill="#fff" class="aa"/>
<rect x="128" y="318" width="1" height="4" fill="#fff" />
<rect x="128" y="322" width="1" height="0.4" fill="#fff" class="aa"/>
<rect x="131" y="318" width="1" height="4" fill="#fff" />
<rect x="131" y="322" width="1" height="0.4" fill="#fff" class="aa"/>
<rect x="134" y="318" width="1" height="4" fill="#fff" />
<rect x="134" y="322" width="1" height="0.4" fill="#fff" class="aa"/>
<rect x="136" y="318" width="1" height="4" fill="#fff" />
<rect x="136" y="322" width="1" height="0.4" fill="#fff" class="aa"/>
<rect x="139" y="318" width="1" height="4" fill="#fff" />
<rect x="139" y="322" width="1" height="0.4" fill="#fff" class="aa"/>
<rect x="142" y="318" width="1" height="4" fill="#fff" />
<rect x="142" y="322" width="1" height="0.4" fill="#fff" class="aa"/>
<rect x="145" y="318" width="1" height="4" fill="#fff" />
<rect x="145" y="322" width="1" height="0.4" fill="#fff" class="aa"/>
<rect x="147" y="318" width="1" height="4" fill="#fff" />
<rect x="147" y="322" width="1" height="0.4" fill="#fff" class="aa"/>
<rect x="150" y="318" width="1" height="4" fill="#fff" />
<rect x="150" y="322" width="1" height="0.4" fill="#fff" class="aa"/>
<rect x="153" y="318" width="1" height="4" fill="#fff" />
<rect x="153" y="322" width="1" height="0.4" fill="#fff" class="aa"/>
<rect x="155" y="318" width="1" height="4" fill="#fff" />
<rect x="155" y="322" width="1" height="0.4" fill="#fff" class="aa"/>
<rect x="158" y="318" width="1" height="4" fill="#fff" />
<rect x="158" y="322" width="1" height="0.4" fill="#fff" class="aa"/>
<rect x="161" y="318" width="1" height="4" fill="#fff" />
<rect x="161" y="322" width="1" height="0.4" fill="#fff" class="aa"/>
<rect x="164" y="318" width="1" height="4" fill="#fff" />
<rect x="164" y="322" width="1" height="0.4" fill="#fff" class="aa"/>
<rect x="166" y="318" width="1" height="4" fill="#fff" />
<rect x="166" y="322" width="1" height="0.4" fill="#fff" class="aa"/>
<rect x="169" y="318" width="1" height="4" fill="#fff" />
<rect x="169" y="322" width="1" height="0.4" fill="#fff" class="aa"/>
<rect x="172" y="318" width="1" height="4" fill="#fff" />
<rect x="172" y="322" width="1" height="0.4" fill="#fff" class="aa"/>
<rect x="174" y="318" width="1" height="4" fill="#fff" />
<rect x="174" y="322" width="1" height="0.4" fill="#fff" class="aa"/>
<rect x="177" y="318" width="1" height="4" fill="#fff" />
<rect x="177" y="322" width="1" height="0.4" fill="#fff" class="aa"/>
<rect x="180" y="318" width="1" height="4" fill="#fff" />
<rect x="180" y="322" width="1" height="0.4" fill="#fff" class="aa"/>
<rect x="183" y="318" width="1" height="4" fill="#fff" />
<rect x="183" y="322" width="1" height="0.4" fill="#fff" class="aa"/>
<rect x="185" y="318" width="1" height="4" fill="#fff" />
<rect x="185" y="322" width="1" height="0.4" fill="#fff" class="aa"/>
<rect x="188" y="318" width="1" height="4" fill="#fff" />
<rect x="188" y="322" width="1" height="0.4" fill="#fff" class="aa"/>
<rect x="191" y="318" width="1" height="4" fill="#fff" />
<rect x="191" y="322" width="1" height="0.4" fill="#fff" class="aa"/>
<rect x="194" y="318" width="1" height="4" fill="#fff" />
<rect x="194" y="322" width="1" height="0.4" fill="#fff" class="aa"/>
<rect x="196" y="318" width="1" height="4" fill="#fff" />
<rect x="196" y="322" width="1" height="0.4" fill="#fff" class="aa"/>
<rect x="199" y="318" width="1" height="4" fill="#fff" />
<rect x="199" y="322" width="1" height="0.4" fill="#fff" class="aa"/>
<rect x="202" y="318" width="1" height="4" fill="#fff" />
<rect x="202" y="322" width="1" height="0.4" fill="#fff" class="aa"/>
<rect x="207" y="318" width="1" height="4" fill="#fff" />
<rect x="207" y="322" width="1" height="0.4" fill="#fff" class="aa"/>
<rect x="210" y="318" width="1" height="4" fill="#fff" />
<rect x="210" y="322" width="1" height="0.4" fill="#fff" class="aa"/>
<rect x="213" y="318" width="1" height="4" fill="#fff" />
<rect x="213" y="322" width="1" height="0.4" fill="#fff" class="aa"/>
<rect x="215" y="318" width="1" height="4" fill="#fff" />
<rect x="215" y="322" width="1" height="0.4" fill="#fff" class="aa"/>
<rect x="218" y="318" width="1" height="4" fill="#fff" />
<rect x="218" y="322" width="1" height="0.4" fill="#fff" class="aa"/>
<rect x="221" y="318" width="1" height="4" fill="#fff" />
<rect x="221" y="322" width="1" height="0.4" fill="#fff" class="aa"/>
<rect x="223" y="318" width="1" height="4" fill="#fff" />
<rect x="223" y="322" width="1" height="0.4" fill="#fff" class="aa"/>
<rect x="286" y="312" width="65" height="11" fill="#000" />
<rect x="289" y="318" width="1" height="4" fill="#fff" />
<rect x="289" y="322" width="1" height="0.4" fill="#fff" class="aa"/>
<rect x="292" y="318" width="1" height="4" fill="#fff" />
<rect x="292" y="322" width="1" height="0.4" fill="#fff" class="aa"/>
<rect x="294" y="318" width="1" height="4" fill="#fff" />
<rect x="294" y="322" width="1" height="0.4" fill="#fff" class="aa"/>
<rect x="297" y="318" width="1" height="4" fill="#fff" />
<rect x="297" y="322" width="1" height="0.4" fill="#fff" class="aa"/>
<rect x="300" y="318" width="1" height="4" fill="#fff" />
<rect x="300" y="322" width="1" height="0.4" fill="#fff" class="aa"/>
<rect x="302" y="318" width="1" height="4" fill="#fff" />
<rect x="302" y="322" width="1" height="0.4" fill="#fff" class="aa"/>
<rect x="305" y="318" width="1" height="4" fill="#fff" />
<rect x="305" y="322" width="1" height="0.4" fill="#fff" class="aa"/>
<rect x="308" y="318" width="1" height="4" fill="#fff" />
<rect x="308" y="322" width="1" height="0.4" fill="#fff" class="aa"/>
<rect x="311" y="318" width="1" height="4" fill="#fff" />
<rect x="311" y="322" width="1" height="0.4" fill="#fff" class="aa"/>
<rect x="313" y="318" width="1" height="4" fill="#fff" />
<rect x="313" y="322" width="1" height="0.4" fill="#fff" class="aa"/>
<rect x="316" y="318" width="1" height="4" fill="#fff" />
<rect x="316" y="322" width="1" height="0.4" fill="#fff" class="aa"/>
<rect x="319" y="318" width="1" height="4" fill="#fff" />
<rect x="319" y="322" width="1" height="0.4" fill="#fff" class="aa"/>
<rect x="321" y="318" width="1" height="4" fill="#fff" />
<rect x="321" y="322" width="1" height="0.4" fill="#fff" class="aa"/>
<rect x="324" y="318" width="1" height="4" fill="#fff" />
<rect x="324" y="322" width="1" height="0.4" fill="#fff" class="aa"/>
<rect x="327" y="318" width="1" height="4" fill="#fff" />
<rect x="327" y="322" width="1" height="0.4" fill="#fff" class="aa"/>
<rect x="330" y="318" width="1" height="4" fill="#fff" />
<rect x="330" y="322" width="1" height="0.4" fill="#fff" class="aa"/>
<rect x="332" y="318" width="1" height="4" fill="#fff" />
<rect x="332" y="322" width="1" height="0.4" fill="#fff" class="aa"/>
<rect x="335" y="318" width="1" height="4" fill="#fff" />
<rect x="335" y="322" width="1" height="0.4" fill="#fff" class="aa"/>
<rect x="338" y="318" width="1" height="4" fill="#fff" />
<rect x="338" y="322" width="1" height="0.4" fill="#fff" class="aa"/>
<rect x="340" y="318" width="1" height="4" fill="#fff" />
<rect x="340" y="322" width="1" height="0.4" fill="#fff" class="aa"/>
<rect x="343" y="318" width="1" height="4" fill="#fff" />
<rect x="343" y="322" width="1" height="0.4" fill="#fff" class="aa"/>
<rect x="346" y="318" width="1" height="4" fill="#fff" />
<rect x="346" y="322" width="1" height="0.4" fill="#fff" class="aa"/>
<rect x="357" y="312" width="37" height="11" fill="#000" />
<rect x="360" y="318" width="1" height="4" fill="#fff" />
<rect x="360" y="322" width="1" height="0.4" fill="#fff" class="aa"/>
<rect x="363" y="318" width="1" height="4" fill="#fff" />
<rect x="363" y="322" width="1" height="0.4" fill="#fff" class="aa"/>
<rect x="365" y="318" width="1" height="4" fill="#fff" />
<rect x="365" y="322" width="1" height="0.4" fill="#fff" class="aa"/>
<rect x="368" y="318" width="1" height="4" fill="#fff" />
<rect x="368" y="322" width="1" height="0.4" fill="#fff" class="aa"/>
<rect x="371" y="318" width="1" height="4" fill="#fff" />
<rect x="371" y="322" width="1" height="0.4" fill="#fff" class="aa"/>
<rect x="373" y="318" width="1" height="4" fill="#fff" />
<rect x="373" y="322" width="1" height="0.4" fill="#fff" class="aa"/>
<rect x="376" y="318" width="1" height="4" fill="#fff" />
<rect x="376" y="322" width="1" height="0.4" fill="#fff" class="aa"/>
<rect x="379" y="318" width="1" height="4" fill="#fff" />
<rect x="379" y="322" width="1" height="0.4" fill="#fff" class="aa"/>
<rect x="382" y="318" width="1" height="4" fill="#fff" />
<rect x="382" y="322" width="1" height="0.4" fill="#fff" class="aa"/>
<rect x="384" y="318" width="1" height="4" fill="#fff" />
<rect x="384" y="322" width="1" height="0.4" fill="#fff" class="aa"/>
<rect x="387" y="318" width="1" height="4" fill="#fff" />
<rect x="387" y="322" width="1" height="0.4" fill="#fff" class="aa"/>
<rect x="390" y="318" width="1" height="4" fill="#fff" />
<rect x="390" y="322" width="1" height="0.4" fill="#fff" class="aa"/>
<rect x="227.3" y="275.4" width="58.3" height="53.3" rx="3" fill="#000" class="aa"/>
<rect x="228.3" y="276.4" width="55.4" height="14.1" rx="1.5" fill="#fff" class="aa"/>
<text transform="translate(0,287.7) scale(0.68,1)" x="337.50 352.13 366.76 382.18 396.81 405.87" y="0" font-size="14.3" fill="#000" stroke="#000" stroke-width="0.3" font-weight="normal">BANK 2</text>
<rect x="228.3" y="295" width="55.4" height="13.5" rx="1.5" fill="#fff" class="aa"/>
<text transform="translate(0,306.5) scale(0.68,1)" x="337.50 352.13 366.76 382.18 396.81 405.87" y="0" font-size="14.3" fill="#000" stroke="#000" stroke-width="0.3" font-weight="normal">BANK 1</text>
<rect x="228.3" y="312.3" width="55.4" height="14.1" rx="1.5" fill="#fff" class="aa"/>
<text transform="translate(0,323.6) scale(0.68,1)" x="337.50 352.13 366.76 382.18 396.81 405.87" y="0" font-size="14.3" fill="#000" stroke="#000" stroke-width="0.3" font-weight="normal">BANK 0</text>
<rect x="170" y="395" width="8" height="15" fill="#000" />
<rect x="171" y="396" width="6" height="13" fill="#fff" />
<rect x="172" y="397" width="4" height="5" fill="#000" />
<rect x="172" y="404" width="4" height="4.4" fill="#000" />
<rect x="144" y="403" width="7" height="15" fill="#000" />
<rect x="145" y="404" width="5" height="1" fill="#fff" />
<rect x="145" y="410" width="5" height="1" fill="#fff" />
<rect x="145" y="416" width="5" height="1" fill="#fff" />
<rect x="175" y="490" width="19" height="8" fill="#000" />
<rect x="176" y="491" width="17" height="6" fill="#fff" />
<rect x="177" y="492" width="4" height="4" fill="#000" />
<rect x="182" y="492" width="6" height="4" fill="#000" />
<rect x="184" y="492" width="2" height="1" fill="#fff" />
<rect x="188" y="492" width="4" height="4" fill="#000" />
<rect x="189" y="493" width="2" height="2" fill="#fff" />
<rect x="87" y="418" width="25" height="88.5" fill="#000" />
<rect x="397" y="418" width="24" height="88.5" fill="#000" />
<rect x="87" y="448" width="334" height="29" fill="#000" />
<polyline points="108.5,449.2 89.6,449.2 89.6,476.6 108.5,476.6" fill="none" stroke="#fff" stroke-width="1.6" class="aa"/>
<polyline points="400,449.2 419.3,449.2 419.3,476.5 400,476.5" fill="none" stroke="#fff" stroke-width="1.6" class="aa"/>
<circle cx="98" cy="429.7" r="4.5" fill="none" stroke="#fff" stroke-width="3" class="aa"/>
<circle cx="99.2" cy="494.7" r="4.5" fill="none" stroke="#fff" stroke-width="3" class="aa"/>
<circle cx="408.6" cy="430" r="4.5" fill="none" stroke="#fff" stroke-width="3" class="aa"/>
<circle cx="408.6" cy="496.6" r="4.5" fill="none" stroke="#fff" stroke-width="3" class="aa"/>
<g class="aa">
<rect x="118" y="457" width="1" height="3" fill="#fff" />
<rect x="118" y="463" width="1" height="4" fill="#fff" />
<rect x="120" y="457" width="1" height="3" fill="#fff" />
<rect x="120" y="463" width="1" height="4" fill="#fff" />
<rect x="123" y="457" width="1" height="3" fill="#fff" />
<rect x="123" y="463" width="1" height="4" fill="#fff" />
<rect x="126" y="457" width="1" height="3" fill="#fff" />
<rect x="126" y="463" width="1" height="4" fill="#fff" />
<rect x="129" y="457" width="1" height="3" fill="#fff" />
<rect x="129" y="463" width="1" height="4" fill="#fff" />
<rect x="131" y="457" width="1" height="3" fill="#fff" />
<rect x="131" y="463" width="1" height="4" fill="#fff" />
<rect x="134" y="457" width="1" height="3" fill="#fff" />
<rect x="134" y="463" width="1" height="4" fill="#fff" />
<rect x="137" y="457" width="1" height="3" fill="#fff" />
<rect x="137" y="463" width="1" height="4" fill="#fff" />
<rect x="140" y="457" width="1" height="3" fill="#fff" />
<rect x="140" y="463" width="1" height="4" fill="#fff" />
<rect x="142" y="463" width="1" height="4" fill="#fff" />
<rect x="145" y="457" width="1" height="3" fill="#fff" />
<rect x="145" y="463" width="1" height="4" fill="#fff" />
<rect x="148" y="457" width="1" height="3" fill="#fff" />
<rect x="148" y="463" width="1" height="4" fill="#fff" />
<rect x="151" y="457" width="1" height="3" fill="#fff" />
<rect x="151" y="463" width="1" height="4" fill="#fff" />
<rect x="153" y="457" width="1" height="3" fill="#fff" />
<rect x="153" y="463" width="1" height="4" fill="#fff" />
<rect x="156" y="457" width="1" height="3" fill="#fff" />
<rect x="156" y="463" width="1" height="4" fill="#fff" />
<rect x="159" y="457" width="1" height="3" fill="#fff" />
<rect x="159" y="463" width="1" height="4" fill="#fff" />
<rect x="162" y="457" width="1" height="3" fill="#fff" />
<rect x="162" y="463" width="1" height="4" fill="#fff" />
<rect x="164" y="457" width="1" height="3" fill="#fff" />
<rect x="164" y="463" width="1" height="4" fill="#fff" />
<rect x="167" y="457" width="1" height="3" fill="#fff" />
<rect x="167" y="463" width="1" height="4" fill="#fff" />
<rect x="170" y="463" width="1" height="4" fill="#fff" />
<rect x="173" y="457" width="1" height="3" fill="#fff" />
<rect x="173" y="463" width="1" height="4" fill="#fff" />
<rect x="175" y="457" width="1" height="3" fill="#fff" />
<rect x="175" y="463" width="1" height="4" fill="#fff" />
<rect x="178" y="457" width="1" height="3" fill="#fff" />
<rect x="178" y="463" width="1" height="4" fill="#fff" />
<rect x="181" y="457" width="1" height="3" fill="#fff" />
<rect x="181" y="463" width="1" height="4" fill="#fff" />
<rect x="184" y="457" width="1" height="3" fill="#fff" />
<rect x="184" y="463" width="1" height="4" fill="#fff" />
<rect x="186" y="457" width="1" height="3" fill="#fff" />
<rect x="186" y="463" width="1" height="4" fill="#fff" />
<rect x="189" y="457" width="1" height="3" fill="#fff" />
<rect x="189" y="463" width="1" height="4" fill="#fff" />
<rect x="192" y="457" width="1" height="3" fill="#fff" />
<rect x="192" y="463" width="1" height="4" fill="#fff" />
<rect x="195" y="457" width="1" height="3" fill="#fff" />
<rect x="195" y="463" width="1" height="4" fill="#fff" />
<rect x="197" y="463" width="1" height="4" fill="#fff" />
<rect x="200" y="457" width="1" height="3" fill="#fff" />
<rect x="200" y="463" width="1" height="4" fill="#fff" />
<rect x="203" y="457" width="1" height="3" fill="#fff" />
<rect x="203" y="463" width="1" height="4" fill="#fff" />
<rect x="206" y="457" width="1" height="3" fill="#fff" />
<rect x="206" y="463" width="1" height="4" fill="#fff" />
<rect x="208" y="457" width="1" height="3" fill="#fff" />
<rect x="208" y="463" width="1" height="4" fill="#fff" />
<rect x="211" y="457" width="1" height="3" fill="#fff" />
<rect x="211" y="463" width="1" height="4" fill="#fff" />
<rect x="214" y="457" width="1" height="3" fill="#fff" />
<rect x="214" y="463" width="1" height="4" fill="#fff" />
<rect x="217" y="457" width="1" height="3" fill="#fff" />
<rect x="217" y="463" width="1" height="4" fill="#fff" />
<rect x="219" y="457" width="1" height="3" fill="#fff" />
<rect x="219" y="463" width="1" height="4" fill="#fff" />
<rect x="222" y="457" width="1" height="3" fill="#fff" />
<rect x="222" y="463" width="1" height="4" fill="#fff" />
<rect x="225" y="463" width="1" height="4" fill="#fff" />
<rect x="228" y="457" width="1" height="3" fill="#fff" />
<rect x="228" y="463" width="1" height="4" fill="#fff" />
<rect x="230" y="457" width="1" height="3" fill="#fff" />
<rect x="230" y="463" width="1" height="4" fill="#fff" />
<rect x="233" y="457" width="1" height="3" fill="#fff" />
<rect x="233" y="463" width="1" height="4" fill="#fff" />
<rect x="236" y="457" width="1" height="3" fill="#fff" />
<rect x="236" y="463" width="1" height="4" fill="#fff" />
<rect x="272" y="457" width="1" height="3" fill="#fff" />
<rect x="272" y="463" width="1" height="4" fill="#fff" />
<rect x="274" y="457" width="1" height="3" fill="#fff" />
<rect x="274" y="463" width="1" height="4" fill="#fff" />
<rect x="277" y="457" width="1" height="3" fill="#fff" />
<rect x="277" y="463" width="1" height="4" fill="#fff" />
<rect x="280" y="463" width="1" height="4" fill="#fff" />
<rect x="283" y="457" width="1" height="3" fill="#fff" />
<rect x="283" y="463" width="1" height="4" fill="#fff" />
<rect x="285" y="457" width="1" height="3" fill="#fff" />
<rect x="285" y="463" width="1" height="4" fill="#fff" />
<rect x="288" y="457" width="1" height="3" fill="#fff" />
<rect x="288" y="463" width="1" height="4" fill="#fff" />
<rect x="291" y="457" width="1" height="3" fill="#fff" />
<rect x="291" y="463" width="1" height="4" fill="#fff" />
<rect x="294" y="457" width="1" height="3" fill="#fff" />
<rect x="294" y="463" width="1" height="4" fill="#fff" />
<rect x="296" y="457" width="1" height="3" fill="#fff" />
<rect x="296" y="463" width="1" height="4" fill="#fff" />
<rect x="299" y="457" width="1" height="3" fill="#fff" />
<rect x="299" y="463" width="1" height="4" fill="#fff" />
<rect x="302" y="457" width="1" height="3" fill="#fff" />
<rect x="302" y="463" width="1" height="4" fill="#fff" />
<rect x="305" y="457" width="1" height="3" fill="#fff" />
<rect x="305" y="463" width="1" height="4" fill="#fff" />
<rect x="307" y="463" width="1" height="4" fill="#fff" />
<rect x="310" y="457" width="1" height="3" fill="#fff" />
<rect x="310" y="463" width="1" height="4" fill="#fff" />
<rect x="313" y="457" width="1" height="3" fill="#fff" />
<rect x="313" y="463" width="1" height="4" fill="#fff" />
<rect x="316" y="457" width="1" height="3" fill="#fff" />
<rect x="316" y="463" width="1" height="4" fill="#fff" />
<rect x="318" y="457" width="1" height="3" fill="#fff" />
<rect x="318" y="463" width="1" height="4" fill="#fff" />
<rect x="321" y="457" width="1" height="3" fill="#fff" />
<rect x="321" y="463" width="1" height="4" fill="#fff" />
<rect x="324" y="457" width="1" height="3" fill="#fff" />
<rect x="324" y="463" width="1" height="4" fill="#fff" />
<rect x="327" y="457" width="1" height="3" fill="#fff" />
<rect x="327" y="463" width="1" height="4" fill="#fff" />
<rect x="329" y="457" width="1" height="3" fill="#fff" />
<rect x="329" y="463" width="1" height="4" fill="#fff" />
<rect x="332" y="457" width="1" height="3" fill="#fff" />
<rect x="332" y="463" width="1" height="4" fill="#fff" />
<rect x="335" y="463" width="1" height="4" fill="#fff" />
<rect x="338" y="457" width="1" height="3" fill="#fff" />
<rect x="338" y="463" width="1" height="4" fill="#fff" />
<rect x="340" y="457" width="1" height="3" fill="#fff" />
<rect x="340" y="463" width="1" height="4" fill="#fff" />
<rect x="343" y="457" width="1" height="3" fill="#fff" />
<rect x="343" y="463" width="1" height="4" fill="#fff" />
<rect x="346" y="457" width="1" height="3" fill="#fff" />
<rect x="346" y="463" width="1" height="4" fill="#fff" />
<rect x="349" y="457" width="1" height="3" fill="#fff" />
<rect x="349" y="463" width="1" height="4" fill="#fff" />
<rect x="351" y="457" width="1" height="3" fill="#fff" />
<rect x="351" y="463" width="1" height="4" fill="#fff" />
<rect x="354" y="457" width="1" height="3" fill="#fff" />
<rect x="354" y="463" width="1" height="4" fill="#fff" />
<rect x="357" y="457" width="1" height="3" fill="#fff" />
<rect x="357" y="463" width="1" height="4" fill="#fff" />
<rect x="360" y="457" width="1" height="3" fill="#fff" />
<rect x="360" y="463" width="1" height="4" fill="#fff" />
<rect x="362" y="463" width="1" height="4" fill="#fff" />
<rect x="365" y="457" width="1" height="3" fill="#fff" />
<rect x="365" y="463" width="1" height="4" fill="#fff" />
<rect x="368" y="457" width="1" height="3" fill="#fff" />
<rect x="368" y="463" width="1" height="4" fill="#fff" />
<rect x="371" y="457" width="1" height="3" fill="#fff" />
<rect x="371" y="463" width="1" height="4" fill="#fff" />
<rect x="373" y="457" width="1" height="3" fill="#fff" />
<rect x="373" y="463" width="1" height="4" fill="#fff" />
<rect x="376" y="457" width="1" height="3" fill="#fff" />
<rect x="376" y="463" width="1" height="4" fill="#fff" />
<rect x="379" y="457" width="1" height="3" fill="#fff" />
<rect x="379" y="463" width="1" height="4" fill="#fff" />
<rect x="382" y="457" width="1" height="3" fill="#fff" />
<rect x="382" y="463" width="1" height="4" fill="#fff" />
<rect x="384" y="457" width="1" height="3" fill="#fff" />
<rect x="384" y="463" width="1" height="4" fill="#fff" />
<rect x="387" y="457" width="1" height="3" fill="#fff" />
<rect x="387" y="463" width="1" height="4" fill="#fff" />
<rect x="390" y="463" width="1" height="4" fill="#fff" />
</g>
<rect x="239.6" y="454.9" width="29.1" height="14.7" rx="2" fill="#fff" class="aa"/>
<text transform="translate(0,467.3) scale(0.68,1)" x="353.24 369.26 384.26" y="0" font-size="14.3" fill="#000" stroke="#000" stroke-width="0.3" font-weight="normal">CPU</text>
<rect x="487" y="293" width="12" height="100.5" fill="#000" />
<rect x="492.5" y="294" width="1" height="98.5" fill="#fff" />
<rect x="488" y="298.7" width="10" height="1.2" fill="#fff" class="aa"/>
<rect x="488" y="304.74" width="10" height="1.2" fill="#fff" class="aa"/>
<rect x="488" y="310.78" width="10" height="1.2" fill="#fff" class="aa"/>
<rect x="488" y="316.82" width="10" height="1.2" fill="#fff" class="aa"/>
<rect x="488" y="322.86" width="10" height="1.2" fill="#fff" class="aa"/>
<rect x="488" y="328.9" width="10" height="1.2" fill="#fff" class="aa"/>
<rect x="488" y="334.94" width="10" height="1.2" fill="#fff" class="aa"/>
<rect x="488" y="340.98" width="10" height="1.2" fill="#fff" class="aa"/>
<rect x="488" y="347.02" width="10" height="1.2" fill="#fff" class="aa"/>
<rect x="488" y="353.06" width="10" height="1.2" fill="#fff" class="aa"/>
<rect x="488" y="359.1" width="10" height="1.2" fill="#fff" class="aa"/>
<rect x="488" y="365.14" width="10" height="1.2" fill="#fff" class="aa"/>
<rect x="488" y="371.18" width="10" height="1.2" fill="#fff" class="aa"/>
<rect x="488" y="377.22" width="10" height="1.2" fill="#fff" class="aa"/>
<rect x="488" y="383.26" width="10" height="1.2" fill="#fff" class="aa"/>
<rect x="488" y="389.3" width="10" height="1.2" fill="#fff" class="aa"/>
<rect x="489" y="294.5" width="3" height="3.8" fill="#fff" />
<rect x="490" y="295.5" width="1" height="1.8" fill="#000" />
<rect x="464" y="307.3" width="13" height="77.3" fill="#000" />
<rect x="470" y="308.3" width="1" height="75.3" fill="#fff" />
<rect x="465" y="313" width="11" height="1.2" fill="#fff" class="aa"/>
<rect x="465" y="319.04" width="11" height="1.2" fill="#fff" class="aa"/>
<rect x="465" y="325.08" width="11" height="1.2" fill="#fff" class="aa"/>
<rect x="465" y="331.12" width="11" height="1.2" fill="#fff" class="aa"/>
<rect x="465" y="337.16" width="11" height="1.2" fill="#fff" class="aa"/>
<rect x="465" y="343.2" width="11" height="1.2" fill="#fff" class="aa"/>
<rect x="465" y="349.24" width="11" height="1.2" fill="#fff" class="aa"/>
<rect x="465" y="355.28" width="11" height="1.2" fill="#fff" class="aa"/>
<rect x="465" y="361.32" width="11" height="1.2" fill="#fff" class="aa"/>
<rect x="465" y="367.36" width="11" height="1.2" fill="#fff" class="aa"/>
<rect x="465" y="373.4" width="11" height="1.2" fill="#fff" class="aa"/>
<rect x="465" y="379.44" width="11" height="1.2" fill="#fff" class="aa"/>
<rect x="466" y="308.8" width="3" height="3.8" fill="#fff" />
<rect x="467" y="309.8" width="1" height="1.8" fill="#000" />
<rect x="537" y="332" width="31" height="14" fill="#000" />
<rect x="538" y="333" width="29" height="12" fill="#fff" />
<rect x="539" y="334" width="4" height="4" fill="#000" />
<rect x="539" y="340" width="4" height="4" fill="#000" />
<rect x="545" y="334" width="4" height="4" fill="#000" />
<rect x="545" y="340" width="4" height="4" fill="#000" />
<rect x="551" y="334" width="4" height="4" fill="#000" />
<rect x="551" y="340" width="4" height="4" fill="#000" />
<rect x="557" y="334" width="4" height="4" fill="#000" />
<rect x="557" y="340" width="4" height="4" fill="#000" />
<rect x="563" y="334" width="4" height="4" fill="#000" />
<rect x="563" y="340" width="4" height="4" fill="#000" />
<rect x="564" y="335" width="2" height="2" fill="#fff" />
<rect x="536" y="356" width="13" height="32" fill="#000" />
<rect x="537" y="357" width="11" height="30" fill="#fff" />
<rect x="538" y="358" width="4" height="4" fill="#000" />
<rect x="538" y="364" width="4" height="4" fill="#000" />
<rect x="538" y="370" width="4" height="4" fill="#000" />
<rect x="538" y="376" width="4" height="4" fill="#000" />
<rect x="538" y="382" width="4" height="4" fill="#000" />
<rect x="543" y="358" width="4" height="4" fill="#000" />
<rect x="543" y="364" width="4" height="4" fill="#000" />
<rect x="543" y="370" width="4" height="4" fill="#000" />
<rect x="543" y="376" width="4" height="4" fill="#000" />
<rect x="543" y="382" width="4" height="4" fill="#000" />
<rect x="538" y="358" width="4" height="4" fill="#000" />
<rect x="539" y="359" width="2" height="2" fill="#fff" />
<rect x="553" y="356" width="13" height="32" fill="#000" />
<rect x="554" y="357" width="11" height="30" fill="#fff" />
<rect x="555" y="358" width="4" height="4" fill="#000" />
<rect x="555" y="364" width="4" height="4" fill="#000" />
<rect x="555" y="370" width="4" height="4" fill="#000" />
<rect x="555" y="376" width="4" height="4" fill="#000" />
<rect x="555" y="382" width="4" height="4" fill="#000" />
<rect x="560" y="358" width="4" height="4" fill="#000" />
<rect x="560" y="364" width="4" height="4" fill="#000" />
<rect x="560" y="370" width="4" height="4" fill="#000" />
<rect x="560" y="376" width="4" height="4" fill="#000" />
<rect x="560" y="382" width="4" height="4" fill="#000" />
<rect x="555" y="358" width="4" height="4" fill="#000" />
<rect x="556" y="359" width="2" height="2" fill="#fff" />
<rect x="540" y="398" width="31" height="7" fill="#000" />
<rect x="541" y="399" width="29" height="1" fill="#fff" />
<rect x="541" y="400" width="1" height="4" fill="#fff" />
<rect x="547" y="400" width="1" height="4" fill="#fff" />
<rect x="554" y="400" width="1" height="4" fill="#fff" />
<rect x="559" y="400" width="1" height="4" fill="#fff" />
<rect x="564" y="400" width="1" height="4" fill="#fff" />
<rect x="567" y="401" width="2" height="2" fill="#fff" />
<rect x="435" y="406" width="25" height="112.5" fill="#000" />
<rect x="436" y="407" width="23" height="110.5" fill="#fff" />
<rect x="438.5" y="407" width="1.5" height="2.5" fill="#000" />
<rect x="444" y="407" width="1.5" height="2.5" fill="#000" />
<rect x="438.5" y="408.5" width="7" height="1" fill="#000" />
<rect x="438" y="412" width="8" height="7" fill="#000" />
<rect x="439" y="413" width="6" height="5" fill="#fff" />
<rect x="438" y="421" width="8" height="7" fill="#000" />
<rect x="439" y="422" width="6" height="5" fill="#fff" />
<rect x="438" y="431" width="8" height="7" fill="#000" />
<rect x="439" y="432" width="6" height="5" fill="#fff" />
<rect x="438" y="440" width="8" height="7" fill="#000" />
<rect x="439" y="441" width="6" height="5" fill="#fff" />
<rect x="438" y="450" width="8" height="7" fill="#000" />
<rect x="439" y="451" width="6" height="5" fill="#fff" />
<rect x="438" y="459" width="8" height="7" fill="#000" />
<rect x="439" y="460" width="6" height="5" fill="#fff" />
<rect x="438" y="468" width="8" height="7" fill="#000" />
<rect x="439" y="469" width="6" height="5" fill="#fff" />
<rect x="438" y="478" width="8" height="7" fill="#000" />
<rect x="439" y="479" width="6" height="5" fill="#fff" />
<rect x="438" y="487" width="8" height="7" fill="#000" />
<rect x="439" y="488" width="6" height="5" fill="#fff" />
<rect x="438" y="497" width="8" height="7" fill="#000" />
<rect x="439" y="498" width="6" height="5" fill="#fff" />
<rect x="438" y="506" width="8" height="8" fill="#000" />
<rect x="439" y="507" width="6" height="6" fill="#fff" />
<rect x="439" y="515.5" width="6" height="3" fill="#000" />
<rect x="440" y="516.5" width="4" height="2" fill="#fff" />
<rect x="446.9" y="408.2" width="2.3" height="7" fill="#000" class="aa"/>
<rect x="446.9" y="417.45" width="2.3" height="7" fill="#000" class="aa"/>
<rect x="446.9" y="426.7" width="2.3" height="7" fill="#000" class="aa"/>
<rect x="446.9" y="435.95" width="2.3" height="7" fill="#000" class="aa"/>
<rect x="446.9" y="445.2" width="2.3" height="7" fill="#000" class="aa"/>
<rect x="446.9" y="454.45" width="2.3" height="7" fill="#000" class="aa"/>
<rect x="446.9" y="463.7" width="2.3" height="7" fill="#000" class="aa"/>
<rect x="446.9" y="472.95" width="2.3" height="7" fill="#000" class="aa"/>
<rect x="446.9" y="482.2" width="2.3" height="7" fill="#000" class="aa"/>
<rect x="446.9" y="491.45" width="2.3" height="7" fill="#000" class="aa"/>
<rect x="446.9" y="500.7" width="2.3" height="7" fill="#000" class="aa"/>
<rect x="446.9" y="509.95" width="2.3" height="7" fill="#000" class="aa"/>
<rect x="451" y="407" width="1" height="111" fill="#000" />
<rect x="453.3" y="409" width="0.9" height="106" fill="#000" class="aa"/>
<rect x="453" y="408.6" width="4.4" height="5.8" rx="1.5" fill="#000" class="aa"/>
<rect x="454.8" y="410.1" width="0.9" height="2.8" fill="#fff" class="aa"/>
<rect x="453" y="417.78" width="4.4" height="5.8" rx="1.5" fill="#000" class="aa"/>
<rect x="454.8" y="419.28" width="0.9" height="2.8" fill="#fff" class="aa"/>
<rect x="453" y="426.96" width="4.4" height="5.8" rx="1.5" fill="#000" class="aa"/>
<rect x="454.8" y="428.46" width="0.9" height="2.8" fill="#fff" class="aa"/>
<rect x="453" y="436.14" width="4.4" height="5.8" rx="1.5" fill="#000" class="aa"/>
<rect x="454.8" y="437.64" width="0.9" height="2.8" fill="#fff" class="aa"/>
<rect x="453" y="445.32" width="4.4" height="5.8" rx="1.5" fill="#000" class="aa"/>
<rect x="454.8" y="446.82" width="0.9" height="2.8" fill="#fff" class="aa"/>
<rect x="453" y="454.5" width="4.4" height="5.8" rx="1.5" fill="#000" class="aa"/>
<rect x="454.8" y="456" width="0.9" height="2.8" fill="#fff" class="aa"/>
<rect x="453" y="463.68" width="4.4" height="5.8" rx="1.5" fill="#000" class="aa"/>
<rect x="454.8" y="465.18" width="0.9" height="2.8" fill="#fff" class="aa"/>
<rect x="453" y="472.86" width="4.4" height="5.8" rx="1.5" fill="#000" class="aa"/>
<rect x="454.8" y="474.36" width="0.9" height="2.8" fill="#fff" class="aa"/>
<rect x="453" y="482.04" width="4.4" height="5.8" rx="1.5" fill="#000" class="aa"/>
<rect x="454.8" y="483.54" width="0.9" height="2.8" fill="#fff" class="aa"/>
<rect x="453" y="491.22" width="4.4" height="5.8" rx="1.5" fill="#000" class="aa"/>
<rect x="454.8" y="492.72" width="0.9" height="2.8" fill="#fff" class="aa"/>
<rect x="453" y="500.4" width="4.4" height="5.8" rx="1.5" fill="#000" class="aa"/>
<rect x="454.8" y="501.9" width="0.9" height="2.8" fill="#fff" class="aa"/>
<rect x="453" y="509.58" width="4.4" height="5.8" rx="1.5" fill="#000" class="aa"/>
<rect x="454.8" y="511.08" width="0.9" height="2.8" fill="#fff" class="aa"/>
<rect x="466" y="433" width="25" height="101.5" fill="#000" />
<rect x="467" y="434" width="23" height="99.5" fill="#fff" />
<rect x="470" y="438" width="7" height="7" fill="#000" />
<rect x="471" y="439" width="5" height="5" fill="#fff" />
<rect x="480" y="438" width="7" height="7" fill="#000" />
<rect x="481" y="439" width="5" height="5" fill="#fff" />
<rect x="470" y="448" width="7" height="7" fill="#000" />
<rect x="471" y="449" width="5" height="5" fill="#fff" />
<rect x="480" y="448" width="7" height="7" fill="#000" />
<rect x="481" y="449" width="5" height="5" fill="#fff" />
<rect x="470" y="458" width="7" height="7" fill="#000" />
<rect x="471" y="459" width="5" height="5" fill="#fff" />
<rect x="480" y="458" width="7" height="7" fill="#000" />
<rect x="481" y="459" width="5" height="5" fill="#fff" />
<rect x="470" y="467" width="7" height="7" fill="#000" />
<rect x="471" y="468" width="5" height="5" fill="#fff" />
<rect x="480" y="467" width="7" height="7" fill="#000" />
<rect x="481" y="468" width="5" height="5" fill="#fff" />
<rect x="470" y="477" width="7" height="7" fill="#000" />
<rect x="471" y="478" width="5" height="5" fill="#fff" />
<rect x="480" y="477" width="7" height="7" fill="#000" />
<rect x="481" y="478" width="5" height="5" fill="#fff" />
<rect x="470" y="486" width="7" height="7" fill="#000" />
<rect x="471" y="487" width="5" height="5" fill="#fff" />
<rect x="480" y="486" width="7" height="7" fill="#000" />
<rect x="481" y="487" width="5" height="5" fill="#fff" />
<rect x="470" y="495" width="7" height="7" fill="#000" />
<rect x="471" y="496" width="5" height="5" fill="#fff" />
<rect x="480" y="495" width="7" height="7" fill="#000" />
<rect x="481" y="496" width="5" height="5" fill="#fff" />
<rect x="470" y="504" width="7" height="7" fill="#000" />
<rect x="471" y="505" width="5" height="5" fill="#fff" />
<rect x="480" y="504" width="7" height="7" fill="#000" />
<rect x="481" y="505" width="5" height="5" fill="#fff" />
<rect x="470" y="514" width="7" height="7" fill="#000" />
<rect x="471" y="515" width="5" height="5" fill="#fff" />
<rect x="480" y="514" width="7" height="7" fill="#000" />
<rect x="481" y="515" width="5" height="5" fill="#fff" />
<rect x="470" y="522" width="7" height="7" fill="#000" />
<rect x="471" y="523" width="5" height="5" fill="#fff" />
<rect x="480" y="522" width="7" height="7" fill="#000" />
<rect x="481" y="523" width="5" height="5" fill="#fff" />
<rect x="544" y="425" width="29.4" height="36.8" fill="#000" />
<rect x="541" y="431" width="3.2" height="23.8" fill="#000" />
<rect x="568" y="420" width="5.4" height="46" fill="#000" />
<rect x="570.8" y="417.6" width="2.6" height="51.4" fill="#000" />
<rect x="537" y="433" width="4.5" height="8.5" fill="#000" />
<rect x="538" y="434" width="2.5" height="6.5" fill="#fff" />
<rect x="537" y="445" width="4.5" height="7.6" fill="#000" />
<rect x="538" y="446" width="2.5" height="5.6" fill="#fff" />
<rect x="542" y="441" width="2" height="4.8" fill="#fff" />
<rect x="4.5" y="20.3" width="33.6" height="16.2" rx="3.0" fill="#000" class="aa"/>
<rect x="4.2" y="20" width="32.2" height="14.8" rx="2.5" fill="#fff" stroke="#000" stroke-width="1.4" class="aa"/>
<line x1="43" y1="28.3" x2="53.3" y2="28.3" stroke="#000" stroke-width="2.6" class="aa"/>
<line x1="43" y1="28.3" x2="50.45" y2="28.3" stroke="#000" stroke-width="4" class="aa"/>
<polyline points="36.1,24.9 47.6,28.3 36.1,31.7" fill="#fff" stroke="#000" stroke-width="2.2" stroke-linejoin="miter" stroke-miterlimit="10" class="aa"/>
<text transform="translate(0,33) scale(0.68,1)" x="8.82 22.65 36.76" y="0" font-size="14.3" fill="#000" stroke="#000" stroke-width="0.3" font-weight="normal">JP6</text>
<rect x="13.3" y="48.1" width="31.7" height="16.5" rx="3.0" fill="#000" class="aa"/>
<rect x="13" y="47.8" width="30.3" height="15.1" rx="2.5" fill="#fff" stroke="#000" stroke-width="1.4" class="aa"/>
<polyline points="41.5,48.2 53.8,40 44,51" fill="#fff" stroke="#000" stroke-width="1.6" stroke-linejoin="miter" stroke-miterlimit="10" class="aa"/>
<text transform="translate(0,59.3) scale(0.68,1)" x="22.06 37.06 49.85" y="0" font-size="14.3" fill="#000" stroke="#000" stroke-width="0.3" font-weight="normal">JP5</text>
<rect x="169.5" y="62" width="32" height="17" rx="3.0" fill="#000" class="aa"/>
<rect x="169.2" y="61.7" width="30.6" height="15.6" rx="2.5" fill="#fff" stroke="#000" stroke-width="1.4" class="aa"/>
<line x1="184" y1="85.4" x2="184" y2="95.3" stroke="#000" stroke-width="2.6" class="aa"/>
<line x1="184" y1="85.4" x2="184" y2="93.15" stroke="#000" stroke-width="4" class="aa"/>
<polyline points="180.7,77 184,91 187.3,77" fill="#fff" stroke="#000" stroke-width="2.2" stroke-linejoin="miter" stroke-miterlimit="10" class="aa"/>
<text transform="translate(0,74) scale(0.68,1)" x="252.50 266.18 281.32" y="0" font-size="14.3" fill="#000" stroke="#000" stroke-width="0.3" font-weight="normal">RTC</text>
<rect x="43.6" y="190.6" width="34.3" height="16.3" rx="3.0" fill="#000" class="aa"/>
<rect x="43.3" y="190.3" width="32.9" height="14.9" rx="2.5" fill="#fff" stroke="#000" stroke-width="1.4" class="aa"/>
<line x1="82.8" y1="198.3" x2="92.5" y2="198.3" stroke="#000" stroke-width="2.6" class="aa"/>
<line x1="82.8" y1="198.3" x2="89.95" y2="198.3" stroke="#000" stroke-width="4" class="aa"/>
<polyline points="75.9,194.9 87.4,198.3 75.9,201.7" fill="#fff" stroke="#000" stroke-width="2.2" stroke-linejoin="miter" stroke-miterlimit="10" class="aa"/>
<text transform="translate(0,203) scale(0.68,1)" x="68.68 84.71 97.21" y="0" font-size="14.3" fill="#000" stroke="#000" stroke-width="0.3" font-weight="normal">CN5</text>
<rect x="43.6" y="213.6" width="34.3" height="16.6" rx="3.0" fill="#000" class="aa"/>
<rect x="43.3" y="213.3" width="32.9" height="15.2" rx="2.5" fill="#fff" stroke="#000" stroke-width="1.4" class="aa"/>
<line x1="82.8" y1="221.3" x2="92.5" y2="221.3" stroke="#000" stroke-width="2.6" class="aa"/>
<line x1="82.8" y1="221.3" x2="89.95" y2="221.3" stroke="#000" stroke-width="4" class="aa"/>
<polyline points="75.9,217.9 87.4,221.3 75.9,224.7" fill="#fff" stroke="#000" stroke-width="2.2" stroke-linejoin="miter" stroke-miterlimit="10" class="aa"/>
<text transform="translate(0,226) scale(0.68,1)" x="68.68 84.71 97.21" y="0" font-size="14.3" fill="#000" stroke="#000" stroke-width="0.3" font-weight="normal">CN6</text>
<rect x="119.4" y="235.2" width="24.6" height="17.2" rx="3.0" fill="#000" class="aa"/>
<rect x="119.1" y="234.9" width="23.2" height="15.8" rx="2.5" fill="#fff" stroke="#000" stroke-width="1.4" class="aa"/>
<line x1="112.5" y1="243" x2="103.5" y2="243" stroke="#000" stroke-width="2.6" class="aa"/>
<line x1="112.5" y1="243" x2="105.7" y2="243" stroke="#000" stroke-width="4" class="aa"/>
<polyline points="119.4,239.6 107.9,243 119.4,246.4" fill="#fff" stroke="#000" stroke-width="2.2" stroke-linejoin="miter" stroke-miterlimit="10" class="aa"/>
<text transform="translate(0,247.8) scale(0.68,1)" x="179.41 197.50" y="0" font-size="14.3" fill="#000" stroke="#000" stroke-width="0.3" font-weight="normal">C1</text>
<rect x="367.8" y="136" width="25.2" height="17.6" rx="3.0" fill="#000" class="aa"/>
<rect x="367.5" y="135.7" width="23.8" height="16.2" rx="2.5" fill="#fff" stroke="#000" stroke-width="1.4" class="aa"/>
<line x1="362.6" y1="144.6" x2="353" y2="144.6" stroke="#000" stroke-width="2.6" class="aa"/>
<line x1="362.6" y1="144.6" x2="356" y2="144.6" stroke="#000" stroke-width="4" class="aa"/>
<polyline points="368,141.2 359,144.6 368,148" fill="#fff" stroke="#000" stroke-width="2.2" stroke-linejoin="miter" stroke-miterlimit="10" class="aa"/>
<text transform="translate(0,149) scale(0.68,1)" x="545.88 561.47" y="0" font-size="14.3" fill="#000" stroke="#000" stroke-width="0.3" font-weight="normal">C3</text>
<rect x="426.4" y="180.7" width="38" height="17" rx="3.0" fill="#000" class="aa"/>
<rect x="426.1" y="180.4" width="36.6" height="15.6" rx="2.5" fill="#fff" stroke="#000" stroke-width="1.4" class="aa"/>
<line x1="469.3" y1="188.7" x2="479.5" y2="188.7" stroke="#000" stroke-width="2.6" class="aa"/>
<line x1="469.3" y1="188.7" x2="476.7" y2="188.7" stroke="#000" stroke-width="4" class="aa"/>
<polyline points="462.4,185.3 473.9,188.7 462.4,192.1" fill="#fff" stroke="#000" stroke-width="2.2" stroke-linejoin="miter" stroke-miterlimit="10" class="aa"/>
<text transform="translate(0,194.5) scale(0.68,1)" x="630.29 652.06 670.29" y="0" font-size="14.3" fill="#000" stroke="#000" stroke-width="0.3" font-weight="normal">WOL</text>
<rect x="475.3" y="229.3" width="34.8" height="16.3" rx="3.0" fill="#000" class="aa"/>
<rect x="475" y="229" width="33.4" height="14.9" rx="2.5" fill="#fff" stroke="#000" stroke-width="1.4" class="aa"/>
<line x1="515" y1="236.7" x2="524" y2="236.7" stroke="#000" stroke-width="2.6" class="aa"/>
<line x1="515" y1="236.7" x2="521.8" y2="236.7" stroke="#000" stroke-width="4" class="aa"/>
<polyline points="508.1,233.3 519.6,236.7 508.1,240.1" fill="#fff" stroke="#000" stroke-width="2.2" stroke-linejoin="miter" stroke-miterlimit="10" class="aa"/>
<text transform="translate(0,242.1) scale(0.68,1)" x="705.88 714.12 730.88" y="0" font-size="14.3" fill="#000" stroke="#000" stroke-width="0.3" font-weight="normal">IR1</text>
<rect x="159.2" y="361.4" width="32.4" height="17.2" rx="3.0" fill="#000" class="aa"/>
<rect x="158.9" y="361.1" width="31" height="15.8" rx="2.5" fill="#fff" stroke="#000" stroke-width="1.4" class="aa"/>
<line x1="174" y1="385" x2="174" y2="396" stroke="#000" stroke-width="2.6" class="aa"/>
<line x1="174" y1="385" x2="174" y2="393.3" stroke="#000" stroke-width="4" class="aa"/>
<polyline points="170.7,376.6 174,390.6 177.3,376.6" fill="#fff" stroke="#000" stroke-width="2.2" stroke-linejoin="miter" stroke-miterlimit="10" class="aa"/>
<text transform="translate(0,374) scale(0.68,1)" x="239.56 252.35 266.76" y="0" font-size="14.3" fill="#000" stroke="#000" stroke-width="0.3" font-weight="normal">JP4</text>
<rect x="94.6" y="402.5" width="34.3" height="16.1" rx="3.0" fill="#000" class="aa"/>
<rect x="94.3" y="402.2" width="32.9" height="14.7" rx="2.5" fill="#fff" stroke="#000" stroke-width="1.4" class="aa"/>
<line x1="133.8" y1="409.8" x2="144.5" y2="409.8" stroke="#000" stroke-width="2.6" class="aa"/>
<line x1="133.8" y1="409.8" x2="141.45" y2="409.8" stroke="#000" stroke-width="4" class="aa"/>
<polyline points="126.9,406.4 138.4,409.8 126.9,413.2" fill="#fff" stroke="#000" stroke-width="2.2" stroke-linejoin="miter" stroke-miterlimit="10" class="aa"/>
<text transform="translate(0,414.5) scale(0.68,1)" x="142.35 157.35 171.47" y="0" font-size="14.3" fill="#000" stroke="#000" stroke-width="0.3" font-weight="normal">O66</text>
<rect x="209.4" y="486.4" width="24.1" height="16.6" rx="3.0" fill="#000" class="aa"/>
<rect x="209.1" y="486.1" width="22.7" height="15.2" rx="2.5" fill="#fff" stroke="#000" stroke-width="1.4" class="aa"/>
<line x1="202.5" y1="494.2" x2="193.5" y2="494.2" stroke="#000" stroke-width="2.6" class="aa"/>
<line x1="202.5" y1="494.2" x2="195.7" y2="494.2" stroke="#000" stroke-width="4" class="aa"/>
<polyline points="209.4,490.8 197.9,494.2 209.4,497.6" fill="#fff" stroke="#000" stroke-width="2.2" stroke-linejoin="miter" stroke-miterlimit="10" class="aa"/>
<text transform="translate(0,498.6) scale(0.68,1)" x="312.21 327.79" y="0" font-size="14.3" fill="#000" stroke="#000" stroke-width="0.3" font-weight="normal">C2</text>
<rect x="439.3" y="291.5" width="34.6" height="16.8" rx="3.0" fill="#000" class="aa"/>
<rect x="439" y="291.2" width="33.2" height="15.4" rx="2.5" fill="#fff" stroke="#000" stroke-width="1.4" class="aa"/>
<line x1="478.8" y1="299" x2="487.5" y2="299" stroke="#000" stroke-width="2.6" class="aa"/>
<line x1="478.8" y1="299" x2="485.45" y2="299" stroke="#000" stroke-width="4" class="aa"/>
<polyline points="471.9,295.6 483.4,299 471.9,302.4" fill="#fff" stroke="#000" stroke-width="2.2" stroke-linejoin="miter" stroke-miterlimit="10" class="aa"/>
<text transform="translate(0,303.8) scale(0.68,1)" x="650.88 667.35 679.56" y="0" font-size="14.3" fill="#000" stroke="#000" stroke-width="0.3" font-weight="normal">CN3</text>
<rect x="415.4" y="332.4" width="34.3" height="17.2" rx="3.0" fill="#000" class="aa"/>
<rect x="415.1" y="332.1" width="32.9" height="15.8" rx="2.5" fill="#fff" stroke="#000" stroke-width="1.4" class="aa"/>
<line x1="454.6" y1="340.5" x2="464.5" y2="340.5" stroke="#000" stroke-width="2.6" class="aa"/>
<line x1="454.6" y1="340.5" x2="461.85" y2="340.5" stroke="#000" stroke-width="4" class="aa"/>
<polyline points="447.7,337.1 459.2,340.5 447.7,343.9" fill="#fff" stroke="#000" stroke-width="2.2" stroke-linejoin="miter" stroke-miterlimit="10" class="aa"/>
<text transform="translate(0,345.5) scale(0.68,1)" x="617.94 633.53 643.97" y="0" font-size="14.3" fill="#000" stroke="#000" stroke-width="0.3" font-weight="normal">CN4</text>
<rect x="538.6" y="300.3" width="32.4" height="17.1" rx="3.0" fill="#000" class="aa"/>
<rect x="538.3" y="300" width="31" height="15.7" rx="2.5" fill="#fff" stroke="#000" stroke-width="1.4" class="aa"/>
<line x1="552.8" y1="323.8" x2="552.8" y2="332.5" stroke="#000" stroke-width="2.6" class="aa"/>
<line x1="552.8" y1="323.8" x2="552.8" y2="330.95" stroke="#000" stroke-width="4" class="aa"/>
<polyline points="549.5,315.4 552.8,329.4 556.1,315.4" fill="#fff" stroke="#000" stroke-width="2.2" stroke-linejoin="miter" stroke-miterlimit="10" class="aa"/>
<text transform="translate(0,313) scale(0.68,1)" x="794.85 808.97 824.26" y="0" font-size="14.3" fill="#000" stroke="#000" stroke-width="0.3" font-weight="normal">USB</text>
<rect x="581.2" y="364.6" width="32.8" height="15.4" rx="3.0" fill="#000" class="aa"/>
<rect x="580.9" y="364.3" width="31.4" height="14" rx="2.5" fill="#fff" stroke="#000" stroke-width="1.4" class="aa"/>
<line x1="574.3" y1="371.5" x2="565.5" y2="371.5" stroke="#000" stroke-width="2.6" class="aa"/>
<line x1="574.3" y1="371.5" x2="567.6" y2="371.5" stroke="#000" stroke-width="4" class="aa"/>
<polyline points="581.2,368.1 569.7,371.5 581.2,374.9" fill="#fff" stroke="#000" stroke-width="2.2" stroke-linejoin="miter" stroke-miterlimit="10" class="aa"/>
<text transform="translate(0,375.6) scale(0.68,1)" x="862.21 876.62 892.35" y="0" font-size="14.3" fill="#000" stroke="#000" stroke-width="0.3" font-weight="normal">CN1</text>
<rect x="497.2" y="393.8" width="33.6" height="18.2" rx="3.0" fill="#000" class="aa"/>
<rect x="496.9" y="393.5" width="32.2" height="16.8" rx="2.5" fill="#fff" stroke="#000" stroke-width="1.4" class="aa"/>
<polyline points="526,394 538,386.3 529.8,398" fill="#fff" stroke="#000" stroke-width="1.6" stroke-linejoin="miter" stroke-miterlimit="10" class="aa"/>
<text transform="translate(0,406) scale(0.68,1)" x="735.29 750.00 760.59" y="0" font-size="14.3" fill="#000" stroke="#000" stroke-width="0.3" font-weight="normal">CN2</text>
<rect x="587.3" y="394.5" width="33.2" height="16" rx="3.0" fill="#000" class="aa"/>
<rect x="587" y="394.2" width="31.8" height="14.6" rx="2.5" fill="#fff" stroke="#000" stroke-width="1.4" class="aa"/>
<line x1="580.4" y1="401.5" x2="570.5" y2="401.5" stroke="#000" stroke-width="2.6" class="aa"/>
<line x1="580.4" y1="401.5" x2="573.15" y2="401.5" stroke="#000" stroke-width="4" class="aa"/>
<polyline points="587.3,398.1 575.8,401.5 587.3,404.9" fill="#fff" stroke="#000" stroke-width="2.2" stroke-linejoin="miter" stroke-miterlimit="10" class="aa"/>
<text transform="translate(0,406.1) scale(0.68,1)" x="866.03 882.06 897.50" y="0" font-size="14.3" fill="#000" stroke="#000" stroke-width="0.3" font-weight="normal">CN7</text>
<rect x="505.7" y="483.2" width="35.5" height="16" rx="3.0" fill="#000" class="aa"/>
<rect x="505.4" y="482.9" width="34.1" height="14.6" rx="2.5" fill="#fff" stroke="#000" stroke-width="1.4" class="aa"/>
<line x1="498.8" y1="490.5" x2="490.5" y2="490.5" stroke="#000" stroke-width="2.6" class="aa"/>
<line x1="498.8" y1="490.5" x2="492.35" y2="490.5" stroke="#000" stroke-width="4" class="aa"/>
<polyline points="505.7,487.1 494.2,490.5 505.7,493.9" fill="#fff" stroke="#000" stroke-width="2.2" stroke-linejoin="miter" stroke-miterlimit="10" class="aa"/>
<text transform="translate(0,494.2) scale(0.68,1)" x="749.71 763.82 779.12" y="0" font-size="14.3" fill="#000" stroke="#000" stroke-width="0.3" font-weight="normal">ATX</text>
</svg>
</body></html>
